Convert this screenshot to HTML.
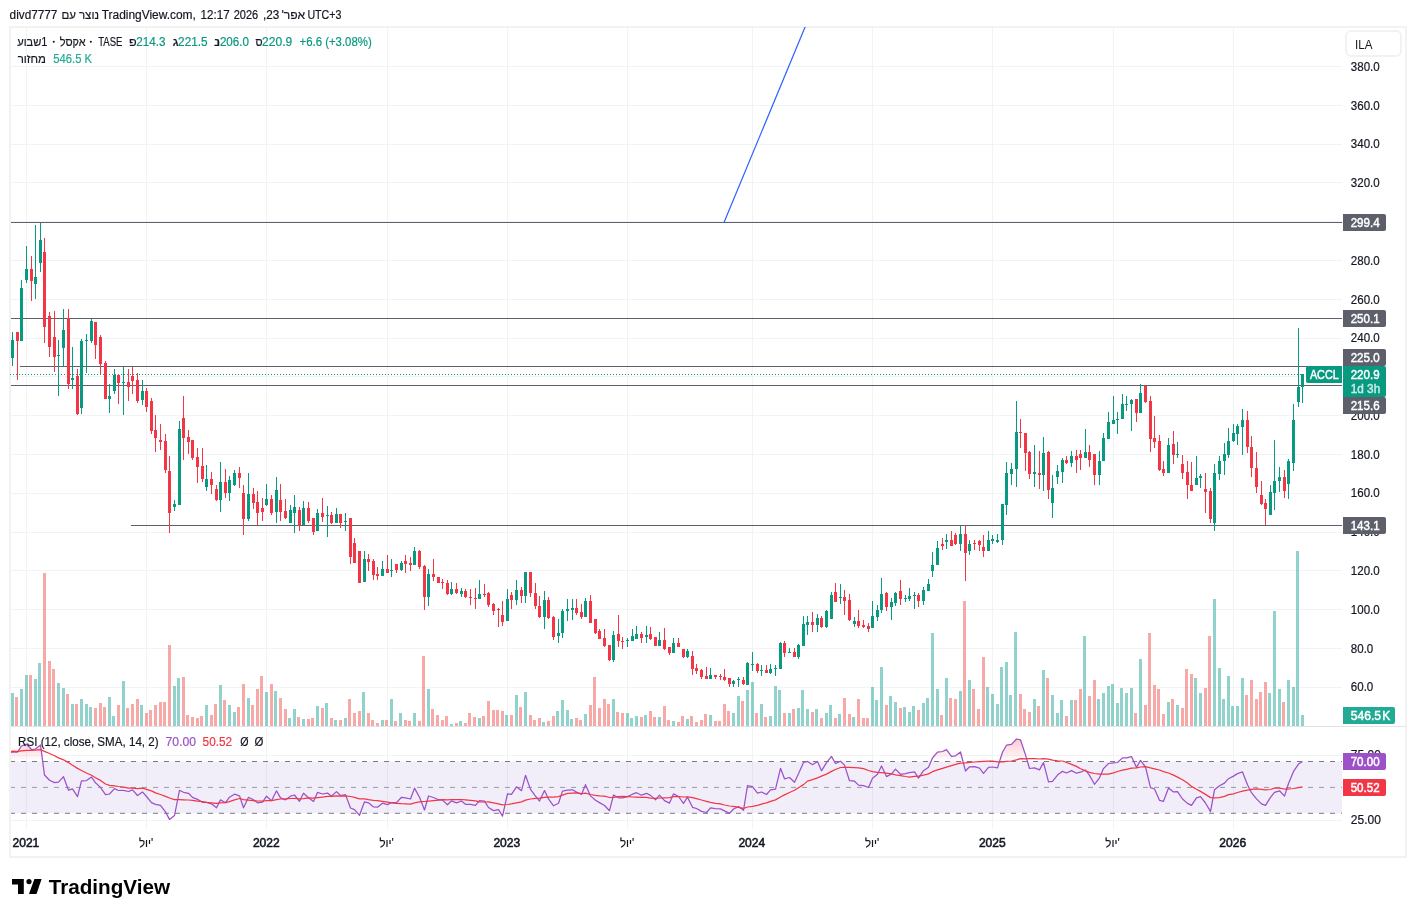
<!DOCTYPE html><html><head><meta charset="utf-8"><style>
html,body{margin:0;padding:0;background:#fff;width:1416px;height:917px;overflow:hidden;position:relative}
body{font-family:"Liberation Sans",sans-serif}
.t{position:absolute;white-space:nowrap;unicode-bidi:bidi-override;direction:ltr;line-height:16px}
.b{position:absolute;text-align:center;white-space:nowrap;unicode-bidi:bidi-override;direction:ltr;font-family:"Liberation Sans",sans-serif}
.gr{color:#089981} .gr2{color:#22ab94}
#frame{position:absolute;left:9px;top:26px;width:1398px;height:832px;border:2px solid #f2f2f2;box-sizing:border-box}
text{unicode-bidi:bidi-override;direction:ltr}
svg{will-change:transform}
</style></head><body>
<div id="frame"></div>
<svg width="1416" height="917" style="position:absolute;left:0;top:0"><defs><clipPath id="cp"><rect x="11" y="27" width="1331" height="699"/></clipPath><clipPath id="cr"><rect x="11" y="728" width="1331" height="101"/></clipPath><linearGradient id="ob" gradientUnits="userSpaceOnUse" x1="0" y1="722.6" x2="0" y2="761.5"><stop offset="0" stop-color="#f23645" stop-opacity="0.45"/><stop offset="1" stop-color="#f23645" stop-opacity="0"/></linearGradient></defs><g shape-rendering="crispEdges"><rect x="26" y="27" width="1" height="699" fill="#f2f3f3"/><rect x="26" y="728" width="1" height="101" fill="#f2f3f3"/><rect x="146" y="27" width="1" height="699" fill="#f2f3f3"/><rect x="146" y="728" width="1" height="101" fill="#f2f3f3"/><rect x="266" y="27" width="1" height="699" fill="#f2f3f3"/><rect x="266" y="728" width="1" height="101" fill="#f2f3f3"/><rect x="387" y="27" width="1" height="699" fill="#f2f3f3"/><rect x="387" y="728" width="1" height="101" fill="#f2f3f3"/><rect x="507" y="27" width="1" height="699" fill="#f2f3f3"/><rect x="507" y="728" width="1" height="101" fill="#f2f3f3"/><rect x="627" y="27" width="1" height="699" fill="#f2f3f3"/><rect x="627" y="728" width="1" height="101" fill="#f2f3f3"/><rect x="752" y="27" width="1" height="699" fill="#f2f3f3"/><rect x="752" y="728" width="1" height="101" fill="#f2f3f3"/><rect x="872" y="27" width="1" height="699" fill="#f2f3f3"/><rect x="872" y="728" width="1" height="101" fill="#f2f3f3"/><rect x="992" y="27" width="1" height="699" fill="#f2f3f3"/><rect x="992" y="728" width="1" height="101" fill="#f2f3f3"/><rect x="1113" y="27" width="1" height="699" fill="#f2f3f3"/><rect x="1113" y="728" width="1" height="101" fill="#f2f3f3"/><rect x="1233" y="27" width="1" height="699" fill="#f2f3f3"/><rect x="1233" y="728" width="1" height="101" fill="#f2f3f3"/><rect x="11" y="687" width="1331" height="1" fill="#f2f3f3"/><rect x="11" y="648" width="1331" height="1" fill="#f2f3f3"/><rect x="11" y="609" width="1331" height="1" fill="#f2f3f3"/><rect x="11" y="570" width="1331" height="1" fill="#f2f3f3"/><rect x="11" y="532" width="1331" height="1" fill="#f2f3f3"/><rect x="11" y="493" width="1331" height="1" fill="#f2f3f3"/><rect x="11" y="454" width="1331" height="1" fill="#f2f3f3"/><rect x="11" y="415" width="1331" height="1" fill="#f2f3f3"/><rect x="11" y="376" width="1331" height="1" fill="#f2f3f3"/><rect x="11" y="338" width="1331" height="1" fill="#f2f3f3"/><rect x="11" y="299" width="1331" height="1" fill="#f2f3f3"/><rect x="11" y="260" width="1331" height="1" fill="#f2f3f3"/><rect x="11" y="221" width="1331" height="1" fill="#f2f3f3"/><rect x="11" y="182" width="1331" height="1" fill="#f2f3f3"/><rect x="11" y="144" width="1331" height="1" fill="#f2f3f3"/><rect x="11" y="105" width="1331" height="1" fill="#f2f3f3"/><rect x="11" y="66" width="1331" height="1" fill="#f2f3f3"/><rect x="11" y="755" width="1331" height="1" fill="#f2f3f3"/><rect x="11" y="820" width="1331" height="1" fill="#f2f3f3"/></g><g shape-rendering="crispEdges" clip-path="url(#cp)"><rect x="11" y="693" width="3" height="33" fill="rgba(38,166,154,0.5)"/><rect x="15" y="697" width="3" height="29" fill="rgba(239,83,80,0.5)"/><rect x="20" y="689" width="3" height="37" fill="rgba(38,166,154,0.5)"/><rect x="25" y="675" width="3" height="51" fill="rgba(38,166,154,0.5)"/><rect x="29" y="675" width="3" height="51" fill="rgba(239,83,80,0.5)"/><rect x="34" y="679" width="3" height="47" fill="rgba(38,166,154,0.5)"/><rect x="38" y="663" width="3" height="63" fill="rgba(38,166,154,0.5)"/><rect x="43" y="573" width="3" height="153" fill="rgba(239,83,80,0.5)"/><rect x="48" y="661" width="3" height="65" fill="rgba(239,83,80,0.5)"/><rect x="52" y="669" width="3" height="57" fill="rgba(239,83,80,0.5)"/><rect x="57" y="683" width="3" height="43" fill="rgba(38,166,154,0.5)"/><rect x="62" y="688" width="3" height="38" fill="rgba(38,166,154,0.5)"/><rect x="66" y="694" width="3" height="32" fill="rgba(239,83,80,0.5)"/><rect x="71" y="704" width="3" height="22" fill="rgba(38,166,154,0.5)"/><rect x="75" y="704" width="3" height="22" fill="rgba(239,83,80,0.5)"/><rect x="80" y="699" width="3" height="27" fill="rgba(38,166,154,0.5)"/><rect x="85" y="704" width="3" height="22" fill="rgba(38,166,154,0.5)"/><rect x="89" y="707" width="3" height="19" fill="rgba(38,166,154,0.5)"/><rect x="94" y="708" width="3" height="18" fill="rgba(239,83,80,0.5)"/><rect x="99" y="703" width="3" height="23" fill="rgba(239,83,80,0.5)"/><rect x="103" y="707" width="3" height="19" fill="rgba(239,83,80,0.5)"/><rect x="108" y="697" width="3" height="29" fill="rgba(38,166,154,0.5)"/><rect x="112" y="716" width="3" height="10" fill="rgba(38,166,154,0.5)"/><rect x="117" y="705" width="3" height="21" fill="rgba(239,83,80,0.5)"/><rect x="122" y="681" width="3" height="45" fill="rgba(38,166,154,0.5)"/><rect x="126" y="708" width="3" height="18" fill="rgba(239,83,80,0.5)"/><rect x="131" y="704" width="3" height="22" fill="rgba(239,83,80,0.5)"/><rect x="136" y="699" width="3" height="27" fill="rgba(239,83,80,0.5)"/><rect x="140" y="705" width="3" height="21" fill="rgba(38,166,154,0.5)"/><rect x="145" y="713" width="3" height="13" fill="rgba(239,83,80,0.5)"/><rect x="149" y="710" width="3" height="16" fill="rgba(239,83,80,0.5)"/><rect x="154" y="705" width="3" height="21" fill="rgba(239,83,80,0.5)"/><rect x="159" y="702" width="3" height="24" fill="rgba(239,83,80,0.5)"/><rect x="163" y="702" width="3" height="24" fill="rgba(239,83,80,0.5)"/><rect x="168" y="645" width="3" height="81" fill="rgba(239,83,80,0.5)"/><rect x="173" y="686" width="3" height="40" fill="rgba(38,166,154,0.5)"/><rect x="177" y="678" width="3" height="48" fill="rgba(38,166,154,0.5)"/><rect x="182" y="677" width="3" height="49" fill="rgba(239,83,80,0.5)"/><rect x="186" y="715" width="3" height="11" fill="rgba(239,83,80,0.5)"/><rect x="191" y="717" width="3" height="9" fill="rgba(239,83,80,0.5)"/><rect x="196" y="718" width="3" height="8" fill="rgba(239,83,80,0.5)"/><rect x="200" y="716" width="3" height="10" fill="rgba(239,83,80,0.5)"/><rect x="205" y="705" width="3" height="21" fill="rgba(38,166,154,0.5)"/><rect x="210" y="715" width="3" height="11" fill="rgba(239,83,80,0.5)"/><rect x="214" y="704" width="3" height="22" fill="rgba(239,83,80,0.5)"/><rect x="219" y="685" width="3" height="41" fill="rgba(38,166,154,0.5)"/><rect x="223" y="700" width="3" height="26" fill="rgba(239,83,80,0.5)"/><rect x="228" y="705" width="3" height="21" fill="rgba(38,166,154,0.5)"/><rect x="233" y="712" width="3" height="14" fill="rgba(38,166,154,0.5)"/><rect x="237" y="707" width="3" height="19" fill="rgba(239,83,80,0.5)"/><rect x="242" y="684" width="3" height="42" fill="rgba(239,83,80,0.5)"/><rect x="247" y="698" width="3" height="28" fill="rgba(38,166,154,0.5)"/><rect x="251" y="705" width="3" height="21" fill="rgba(239,83,80,0.5)"/><rect x="256" y="689" width="3" height="37" fill="rgba(239,83,80,0.5)"/><rect x="260" y="676" width="3" height="50" fill="rgba(239,83,80,0.5)"/><rect x="265" y="692" width="3" height="34" fill="rgba(38,166,154,0.5)"/><rect x="270" y="684" width="3" height="42" fill="rgba(239,83,80,0.5)"/><rect x="274" y="691" width="3" height="35" fill="rgba(38,166,154,0.5)"/><rect x="279" y="698" width="3" height="28" fill="rgba(239,83,80,0.5)"/><rect x="284" y="709" width="3" height="17" fill="rgba(239,83,80,0.5)"/><rect x="288" y="718" width="3" height="8" fill="rgba(38,166,154,0.5)"/><rect x="293" y="709" width="3" height="17" fill="rgba(38,166,154,0.5)"/><rect x="297" y="717" width="3" height="9" fill="rgba(239,83,80,0.5)"/><rect x="302" y="719" width="3" height="7" fill="rgba(38,166,154,0.5)"/><rect x="307" y="719" width="3" height="7" fill="rgba(239,83,80,0.5)"/><rect x="311" y="718" width="3" height="8" fill="rgba(239,83,80,0.5)"/><rect x="316" y="706" width="3" height="20" fill="rgba(38,166,154,0.5)"/><rect x="321" y="708" width="3" height="18" fill="rgba(239,83,80,0.5)"/><rect x="325" y="703" width="3" height="23" fill="rgba(38,166,154,0.5)"/><rect x="330" y="718" width="3" height="8" fill="rgba(239,83,80,0.5)"/><rect x="334" y="720" width="3" height="6" fill="rgba(38,166,154,0.5)"/><rect x="339" y="720" width="3" height="6" fill="rgba(239,83,80,0.5)"/><rect x="344" y="718" width="3" height="8" fill="rgba(38,166,154,0.5)"/><rect x="348" y="699" width="3" height="27" fill="rgba(239,83,80,0.5)"/><rect x="353" y="713" width="3" height="13" fill="rgba(239,83,80,0.5)"/><rect x="358" y="711" width="3" height="15" fill="rgba(239,83,80,0.5)"/><rect x="362" y="692" width="3" height="34" fill="rgba(38,166,154,0.5)"/><rect x="367" y="713" width="3" height="13" fill="rgba(239,83,80,0.5)"/><rect x="371" y="720" width="3" height="6" fill="rgba(239,83,80,0.5)"/><rect x="376" y="723" width="3" height="3" fill="rgba(239,83,80,0.5)"/><rect x="381" y="720" width="3" height="6" fill="rgba(38,166,154,0.5)"/><rect x="385" y="720" width="3" height="6" fill="rgba(239,83,80,0.5)"/><rect x="390" y="699" width="3" height="27" fill="rgba(38,166,154,0.5)"/><rect x="394" y="721" width="3" height="5" fill="rgba(239,83,80,0.5)"/><rect x="399" y="713" width="3" height="13" fill="rgba(38,166,154,0.5)"/><rect x="404" y="720" width="3" height="6" fill="rgba(239,83,80,0.5)"/><rect x="408" y="721" width="3" height="5" fill="rgba(239,83,80,0.5)"/><rect x="413" y="713" width="3" height="13" fill="rgba(38,166,154,0.5)"/><rect x="418" y="721" width="3" height="5" fill="rgba(239,83,80,0.5)"/><rect x="422" y="656" width="3" height="70" fill="rgba(239,83,80,0.5)"/><rect x="427" y="689" width="3" height="37" fill="rgba(38,166,154,0.5)"/><rect x="431" y="709" width="3" height="17" fill="rgba(239,83,80,0.5)"/><rect x="436" y="715" width="3" height="11" fill="rgba(239,83,80,0.5)"/><rect x="441" y="720" width="3" height="6" fill="rgba(239,83,80,0.5)"/><rect x="445" y="716" width="3" height="10" fill="rgba(239,83,80,0.5)"/><rect x="450" y="724" width="3" height="2" fill="rgba(38,166,154,0.5)"/><rect x="455" y="723" width="3" height="3" fill="rgba(239,83,80,0.5)"/><rect x="459" y="721" width="3" height="5" fill="rgba(38,166,154,0.5)"/><rect x="464" y="723" width="3" height="3" fill="rgba(239,83,80,0.5)"/><rect x="468" y="713" width="3" height="13" fill="rgba(239,83,80,0.5)"/><rect x="473" y="717" width="3" height="9" fill="rgba(239,83,80,0.5)"/><rect x="478" y="718" width="3" height="8" fill="rgba(38,166,154,0.5)"/><rect x="482" y="716" width="3" height="10" fill="rgba(239,83,80,0.5)"/><rect x="487" y="701" width="3" height="25" fill="rgba(239,83,80,0.5)"/><rect x="492" y="710" width="3" height="16" fill="rgba(239,83,80,0.5)"/><rect x="496" y="710" width="3" height="16" fill="rgba(239,83,80,0.5)"/><rect x="501" y="711" width="3" height="15" fill="rgba(239,83,80,0.5)"/><rect x="505" y="715" width="3" height="11" fill="rgba(38,166,154,0.5)"/><rect x="510" y="715" width="3" height="11" fill="rgba(239,83,80,0.5)"/><rect x="515" y="695" width="3" height="31" fill="rgba(38,166,154,0.5)"/><rect x="519" y="707" width="3" height="19" fill="rgba(239,83,80,0.5)"/><rect x="524" y="692" width="3" height="34" fill="rgba(38,166,154,0.5)"/><rect x="529" y="715" width="3" height="11" fill="rgba(239,83,80,0.5)"/><rect x="533" y="720" width="3" height="6" fill="rgba(239,83,80,0.5)"/><rect x="538" y="718" width="3" height="8" fill="rgba(239,83,80,0.5)"/><rect x="542" y="722" width="3" height="4" fill="rgba(38,166,154,0.5)"/><rect x="547" y="721" width="3" height="5" fill="rgba(239,83,80,0.5)"/><rect x="552" y="716" width="3" height="10" fill="rgba(239,83,80,0.5)"/><rect x="556" y="711" width="3" height="15" fill="rgba(38,166,154,0.5)"/><rect x="561" y="700" width="3" height="26" fill="rgba(38,166,154,0.5)"/><rect x="566" y="710" width="3" height="16" fill="rgba(38,166,154,0.5)"/><rect x="570" y="719" width="3" height="7" fill="rgba(38,166,154,0.5)"/><rect x="575" y="718" width="3" height="8" fill="rgba(239,83,80,0.5)"/><rect x="579" y="720" width="3" height="6" fill="rgba(239,83,80,0.5)"/><rect x="584" y="714" width="3" height="12" fill="rgba(38,166,154,0.5)"/><rect x="589" y="705" width="3" height="21" fill="rgba(239,83,80,0.5)"/><rect x="593" y="677" width="3" height="49" fill="rgba(239,83,80,0.5)"/><rect x="598" y="708" width="3" height="18" fill="rgba(239,83,80,0.5)"/><rect x="603" y="699" width="3" height="27" fill="rgba(239,83,80,0.5)"/><rect x="607" y="704" width="3" height="22" fill="rgba(239,83,80,0.5)"/><rect x="612" y="699" width="3" height="27" fill="rgba(38,166,154,0.5)"/><rect x="616" y="712" width="3" height="14" fill="rgba(239,83,80,0.5)"/><rect x="621" y="713" width="3" height="13" fill="rgba(239,83,80,0.5)"/><rect x="626" y="713" width="3" height="13" fill="rgba(38,166,154,0.5)"/><rect x="630" y="718" width="3" height="8" fill="rgba(38,166,154,0.5)"/><rect x="635" y="716" width="3" height="10" fill="rgba(38,166,154,0.5)"/><rect x="640" y="717" width="3" height="9" fill="rgba(239,83,80,0.5)"/><rect x="644" y="715" width="3" height="11" fill="rgba(38,166,154,0.5)"/><rect x="649" y="711" width="3" height="15" fill="rgba(239,83,80,0.5)"/><rect x="653" y="717" width="3" height="9" fill="rgba(239,83,80,0.5)"/><rect x="658" y="717" width="3" height="9" fill="rgba(38,166,154,0.5)"/><rect x="663" y="706" width="3" height="20" fill="rgba(239,83,80,0.5)"/><rect x="667" y="720" width="3" height="6" fill="rgba(239,83,80,0.5)"/><rect x="672" y="721" width="3" height="5" fill="rgba(38,166,154,0.5)"/><rect x="677" y="722" width="3" height="4" fill="rgba(239,83,80,0.5)"/><rect x="681" y="716" width="3" height="10" fill="rgba(239,83,80,0.5)"/><rect x="686" y="719" width="3" height="7" fill="rgba(38,166,154,0.5)"/><rect x="690" y="716" width="3" height="10" fill="rgba(239,83,80,0.5)"/><rect x="695" y="722" width="3" height="4" fill="rgba(239,83,80,0.5)"/><rect x="700" y="720" width="3" height="6" fill="rgba(239,83,80,0.5)"/><rect x="704" y="714" width="3" height="12" fill="rgba(239,83,80,0.5)"/><rect x="709" y="715" width="3" height="11" fill="rgba(38,166,154,0.5)"/><rect x="714" y="721" width="3" height="5" fill="rgba(239,83,80,0.5)"/><rect x="718" y="721" width="3" height="5" fill="rgba(239,83,80,0.5)"/><rect x="723" y="704" width="3" height="22" fill="rgba(239,83,80,0.5)"/><rect x="727" y="711" width="3" height="15" fill="rgba(239,83,80,0.5)"/><rect x="732" y="713" width="3" height="13" fill="rgba(38,166,154,0.5)"/><rect x="737" y="696" width="3" height="30" fill="rgba(38,166,154,0.5)"/><rect x="741" y="701" width="3" height="25" fill="rgba(239,83,80,0.5)"/><rect x="746" y="690" width="3" height="36" fill="rgba(38,166,154,0.5)"/><rect x="751" y="682" width="3" height="44" fill="rgba(38,166,154,0.5)"/><rect x="755" y="713" width="3" height="13" fill="rgba(239,83,80,0.5)"/><rect x="760" y="704" width="3" height="22" fill="rgba(38,166,154,0.5)"/><rect x="764" y="717" width="3" height="9" fill="rgba(239,83,80,0.5)"/><rect x="769" y="716" width="3" height="10" fill="rgba(38,166,154,0.5)"/><rect x="774" y="686" width="3" height="40" fill="rgba(38,166,154,0.5)"/><rect x="778" y="690" width="3" height="36" fill="rgba(38,166,154,0.5)"/><rect x="783" y="713" width="3" height="13" fill="rgba(239,83,80,0.5)"/><rect x="788" y="713" width="3" height="13" fill="rgba(38,166,154,0.5)"/><rect x="792" y="709" width="3" height="17" fill="rgba(239,83,80,0.5)"/><rect x="797" y="708" width="3" height="18" fill="rgba(38,166,154,0.5)"/><rect x="801" y="690" width="3" height="36" fill="rgba(38,166,154,0.5)"/><rect x="806" y="709" width="3" height="17" fill="rgba(38,166,154,0.5)"/><rect x="811" y="712" width="3" height="14" fill="rgba(239,83,80,0.5)"/><rect x="815" y="709" width="3" height="17" fill="rgba(38,166,154,0.5)"/><rect x="820" y="718" width="3" height="8" fill="rgba(239,83,80,0.5)"/><rect x="825" y="713" width="3" height="13" fill="rgba(38,166,154,0.5)"/><rect x="829" y="705" width="3" height="21" fill="rgba(38,166,154,0.5)"/><rect x="834" y="718" width="3" height="8" fill="rgba(239,83,80,0.5)"/><rect x="838" y="714" width="3" height="12" fill="rgba(38,166,154,0.5)"/><rect x="843" y="698" width="3" height="28" fill="rgba(239,83,80,0.5)"/><rect x="848" y="714" width="3" height="12" fill="rgba(239,83,80,0.5)"/><rect x="852" y="717" width="3" height="9" fill="rgba(38,166,154,0.5)"/><rect x="857" y="699" width="3" height="27" fill="rgba(239,83,80,0.5)"/><rect x="862" y="718" width="3" height="8" fill="rgba(239,83,80,0.5)"/><rect x="866" y="718" width="3" height="8" fill="rgba(239,83,80,0.5)"/><rect x="871" y="687" width="3" height="39" fill="rgba(38,166,154,0.5)"/><rect x="875" y="700" width="3" height="26" fill="rgba(38,166,154,0.5)"/><rect x="880" y="667" width="3" height="59" fill="rgba(38,166,154,0.5)"/><rect x="885" y="705" width="3" height="21" fill="rgba(239,83,80,0.5)"/><rect x="889" y="696" width="3" height="30" fill="rgba(38,166,154,0.5)"/><rect x="894" y="702" width="3" height="24" fill="rgba(38,166,154,0.5)"/><rect x="899" y="708" width="3" height="18" fill="rgba(239,83,80,0.5)"/><rect x="903" y="707" width="3" height="19" fill="rgba(38,166,154,0.5)"/><rect x="908" y="712" width="3" height="14" fill="rgba(38,166,154,0.5)"/><rect x="912" y="706" width="3" height="20" fill="rgba(38,166,154,0.5)"/><rect x="917" y="710" width="3" height="16" fill="rgba(239,83,80,0.5)"/><rect x="922" y="703" width="3" height="23" fill="rgba(38,166,154,0.5)"/><rect x="926" y="698" width="3" height="28" fill="rgba(38,166,154,0.5)"/><rect x="931" y="633" width="3" height="93" fill="rgba(38,166,154,0.5)"/><rect x="936" y="689" width="3" height="37" fill="rgba(38,166,154,0.5)"/><rect x="940" y="715" width="3" height="11" fill="rgba(239,83,80,0.5)"/><rect x="945" y="678" width="3" height="48" fill="rgba(38,166,154,0.5)"/><rect x="949" y="698" width="3" height="28" fill="rgba(239,83,80,0.5)"/><rect x="954" y="699" width="3" height="27" fill="rgba(239,83,80,0.5)"/><rect x="959" y="691" width="3" height="35" fill="rgba(38,166,154,0.5)"/><rect x="963" y="601" width="3" height="125" fill="rgba(239,83,80,0.5)"/><rect x="968" y="680" width="3" height="46" fill="rgba(38,166,154,0.5)"/><rect x="972" y="689" width="3" height="37" fill="rgba(239,83,80,0.5)"/><rect x="977" y="709" width="3" height="17" fill="rgba(239,83,80,0.5)"/><rect x="982" y="657" width="3" height="69" fill="rgba(239,83,80,0.5)"/><rect x="986" y="687" width="3" height="39" fill="rgba(38,166,154,0.5)"/><rect x="991" y="694" width="3" height="32" fill="rgba(38,166,154,0.5)"/><rect x="996" y="704" width="3" height="22" fill="rgba(38,166,154,0.5)"/><rect x="1000" y="667" width="3" height="59" fill="rgba(38,166,154,0.5)"/><rect x="1005" y="662" width="3" height="64" fill="rgba(38,166,154,0.5)"/><rect x="1009" y="695" width="3" height="31" fill="rgba(38,166,154,0.5)"/><rect x="1014" y="632" width="3" height="94" fill="rgba(38,166,154,0.5)"/><rect x="1019" y="694" width="3" height="32" fill="rgba(239,83,80,0.5)"/><rect x="1023" y="709" width="3" height="17" fill="rgba(239,83,80,0.5)"/><rect x="1028" y="712" width="3" height="14" fill="rgba(239,83,80,0.5)"/><rect x="1033" y="699" width="3" height="27" fill="rgba(38,166,154,0.5)"/><rect x="1037" y="706" width="3" height="20" fill="rgba(239,83,80,0.5)"/><rect x="1042" y="670" width="3" height="56" fill="rgba(38,166,154,0.5)"/><rect x="1046" y="678" width="3" height="48" fill="rgba(239,83,80,0.5)"/><rect x="1051" y="695" width="3" height="31" fill="rgba(38,166,154,0.5)"/><rect x="1056" y="713" width="3" height="13" fill="rgba(38,166,154,0.5)"/><rect x="1060" y="700" width="3" height="26" fill="rgba(38,166,154,0.5)"/><rect x="1065" y="716" width="3" height="10" fill="rgba(239,83,80,0.5)"/><rect x="1070" y="700" width="3" height="26" fill="rgba(38,166,154,0.5)"/><rect x="1074" y="700" width="3" height="26" fill="rgba(239,83,80,0.5)"/><rect x="1079" y="689" width="3" height="37" fill="rgba(239,83,80,0.5)"/><rect x="1083" y="636" width="3" height="90" fill="rgba(38,166,154,0.5)"/><rect x="1088" y="696" width="3" height="30" fill="rgba(239,83,80,0.5)"/><rect x="1093" y="680" width="3" height="46" fill="rgba(239,83,80,0.5)"/><rect x="1097" y="699" width="3" height="27" fill="rgba(38,166,154,0.5)"/><rect x="1102" y="693" width="3" height="33" fill="rgba(38,166,154,0.5)"/><rect x="1107" y="686" width="3" height="40" fill="rgba(38,166,154,0.5)"/><rect x="1111" y="684" width="3" height="42" fill="rgba(38,166,154,0.5)"/><rect x="1116" y="703" width="3" height="23" fill="rgba(38,166,154,0.5)"/><rect x="1120" y="688" width="3" height="38" fill="rgba(38,166,154,0.5)"/><rect x="1125" y="693" width="3" height="33" fill="rgba(38,166,154,0.5)"/><rect x="1130" y="688" width="3" height="38" fill="rgba(38,166,154,0.5)"/><rect x="1134" y="713" width="3" height="13" fill="rgba(239,83,80,0.5)"/><rect x="1139" y="659" width="3" height="67" fill="rgba(38,166,154,0.5)"/><rect x="1144" y="705" width="3" height="21" fill="rgba(239,83,80,0.5)"/><rect x="1148" y="633" width="3" height="93" fill="rgba(239,83,80,0.5)"/><rect x="1153" y="685" width="3" height="41" fill="rgba(239,83,80,0.5)"/><rect x="1157" y="689" width="3" height="37" fill="rgba(239,83,80,0.5)"/><rect x="1162" y="714" width="3" height="12" fill="rgba(239,83,80,0.5)"/><rect x="1167" y="702" width="3" height="24" fill="rgba(38,166,154,0.5)"/><rect x="1171" y="699" width="3" height="27" fill="rgba(239,83,80,0.5)"/><rect x="1176" y="705" width="3" height="21" fill="rgba(38,166,154,0.5)"/><rect x="1181" y="708" width="3" height="18" fill="rgba(239,83,80,0.5)"/><rect x="1185" y="669" width="3" height="57" fill="rgba(239,83,80,0.5)"/><rect x="1190" y="674" width="3" height="52" fill="rgba(239,83,80,0.5)"/><rect x="1194" y="678" width="3" height="48" fill="rgba(38,166,154,0.5)"/><rect x="1199" y="693" width="3" height="33" fill="rgba(38,166,154,0.5)"/><rect x="1204" y="688" width="3" height="38" fill="rgba(239,83,80,0.5)"/><rect x="1208" y="636" width="3" height="90" fill="rgba(239,83,80,0.5)"/><rect x="1213" y="599" width="3" height="127" fill="rgba(38,166,154,0.5)"/><rect x="1218" y="668" width="3" height="58" fill="rgba(38,166,154,0.5)"/><rect x="1222" y="699" width="3" height="27" fill="rgba(38,166,154,0.5)"/><rect x="1227" y="676" width="3" height="50" fill="rgba(38,166,154,0.5)"/><rect x="1231" y="706" width="3" height="20" fill="rgba(38,166,154,0.5)"/><rect x="1236" y="706" width="3" height="20" fill="rgba(38,166,154,0.5)"/><rect x="1241" y="678" width="3" height="48" fill="rgba(38,166,154,0.5)"/><rect x="1245" y="695" width="3" height="31" fill="rgba(239,83,80,0.5)"/><rect x="1250" y="680" width="3" height="46" fill="rgba(239,83,80,0.5)"/><rect x="1255" y="699" width="3" height="27" fill="rgba(239,83,80,0.5)"/><rect x="1259" y="692" width="3" height="34" fill="rgba(239,83,80,0.5)"/><rect x="1264" y="682" width="3" height="44" fill="rgba(239,83,80,0.5)"/><rect x="1268" y="693" width="3" height="33" fill="rgba(38,166,154,0.5)"/><rect x="1273" y="611" width="3" height="115" fill="rgba(38,166,154,0.5)"/><rect x="1278" y="689" width="3" height="37" fill="rgba(38,166,154,0.5)"/><rect x="1282" y="702" width="3" height="24" fill="rgba(239,83,80,0.5)"/><rect x="1287" y="680" width="3" height="46" fill="rgba(38,166,154,0.5)"/><rect x="1292" y="687" width="3" height="39" fill="rgba(38,166,154,0.5)"/><rect x="1296" y="551" width="3" height="175" fill="rgba(38,166,154,0.5)"/><rect x="1301" y="715" width="3" height="11" fill="rgba(38,166,154,0.5)"/></g><g shape-rendering="crispEdges"><rect x="11" y="222" width="1331" height="1" fill="#5d606b"/><rect x="11" y="318" width="1331" height="1" fill="#5d606b"/><rect x="20" y="366" width="1322" height="1" fill="#5d606b"/><rect x="11" y="385" width="1331" height="1" fill="#5d606b"/><rect x="131" y="525" width="1211" height="1" fill="#5d606b"/></g><line x1="10" y1="374.5" x2="1342" y2="374.5" stroke="#089981" stroke-width="1" stroke-dasharray="1 2" shape-rendering="crispEdges"/><g shape-rendering="crispEdges" clip-path="url(#cp)"><rect x="12" y="332" width="1" height="34" fill="#089981"/><rect x="11" y="340" width="3" height="18" fill="#089981"/><rect x="17" y="332" width="1" height="48" fill="#f23645"/><rect x="16" y="332" width="3" height="9" fill="#f23645"/><rect x="21" y="280" width="1" height="61" fill="#089981"/><rect x="20" y="288" width="3" height="53" fill="#089981"/><rect x="26" y="246" width="1" height="37" fill="#089981"/><rect x="25" y="269" width="3" height="11" fill="#089981"/><rect x="31" y="256" width="1" height="45" fill="#f23645"/><rect x="30" y="269" width="3" height="12" fill="#f23645"/><rect x="35" y="225" width="1" height="74" fill="#089981"/><rect x="34" y="277" width="3" height="7" fill="#089981"/><rect x="40" y="223" width="1" height="49" fill="#089981"/><rect x="39" y="240" width="3" height="23" fill="#089981"/><rect x="44" y="238" width="1" height="105" fill="#f23645"/><rect x="43" y="252" width="3" height="75" fill="#f23645"/><rect x="49" y="312" width="1" height="45" fill="#f23645"/><rect x="48" y="316" width="3" height="31" fill="#f23645"/><rect x="54" y="311" width="1" height="61" fill="#f23645"/><rect x="53" y="337" width="3" height="20" fill="#f23645"/><rect x="58" y="340" width="1" height="56" fill="#089981"/><rect x="57" y="355" width="3" height="1" fill="#089981"/><rect x="63" y="309" width="1" height="57" fill="#089981"/><rect x="62" y="330" width="3" height="18" fill="#089981"/><rect x="68" y="309" width="1" height="80" fill="#f23645"/><rect x="67" y="318" width="3" height="66" fill="#f23645"/><rect x="72" y="347" width="1" height="42" fill="#089981"/><rect x="71" y="378" width="3" height="2" fill="#089981"/><rect x="77" y="369" width="1" height="46" fill="#f23645"/><rect x="76" y="376" width="3" height="38" fill="#f23645"/><rect x="81" y="339" width="1" height="75" fill="#089981"/><rect x="80" y="341" width="3" height="67" fill="#089981"/><rect x="86" y="334" width="1" height="39" fill="#089981"/><rect x="85" y="340" width="3" height="1" fill="#089981"/><rect x="91" y="319" width="1" height="24" fill="#089981"/><rect x="90" y="321" width="3" height="20" fill="#089981"/><rect x="95" y="322" width="1" height="37" fill="#f23645"/><rect x="94" y="322" width="3" height="23" fill="#f23645"/><rect x="100" y="335" width="1" height="39" fill="#f23645"/><rect x="99" y="337" width="3" height="27" fill="#f23645"/><rect x="105" y="361" width="1" height="38" fill="#f23645"/><rect x="104" y="363" width="3" height="36" fill="#f23645"/><rect x="109" y="384" width="1" height="29" fill="#089981"/><rect x="108" y="396" width="3" height="3" fill="#089981"/><rect x="114" y="369" width="1" height="25" fill="#089981"/><rect x="113" y="375" width="3" height="16" fill="#089981"/><rect x="118" y="374" width="1" height="30" fill="#f23645"/><rect x="117" y="375" width="3" height="8" fill="#f23645"/><rect x="123" y="367" width="1" height="48" fill="#089981"/><rect x="122" y="382" width="3" height="1" fill="#089981"/><rect x="128" y="369" width="1" height="32" fill="#f23645"/><rect x="127" y="382" width="3" height="5" fill="#f23645"/><rect x="132" y="367" width="1" height="27" fill="#f23645"/><rect x="131" y="376" width="3" height="5" fill="#f23645"/><rect x="137" y="373" width="1" height="30" fill="#f23645"/><rect x="136" y="380" width="3" height="21" fill="#f23645"/><rect x="142" y="380" width="1" height="25" fill="#089981"/><rect x="141" y="391" width="3" height="9" fill="#089981"/><rect x="146" y="388" width="1" height="24" fill="#f23645"/><rect x="145" y="391" width="3" height="16" fill="#f23645"/><rect x="151" y="398" width="1" height="36" fill="#f23645"/><rect x="150" y="401" width="3" height="30" fill="#f23645"/><rect x="155" y="415" width="1" height="37" fill="#f23645"/><rect x="154" y="430" width="3" height="8" fill="#f23645"/><rect x="160" y="424" width="1" height="26" fill="#f23645"/><rect x="159" y="440" width="3" height="2" fill="#f23645"/><rect x="165" y="434" width="1" height="39" fill="#f23645"/><rect x="164" y="441" width="3" height="29" fill="#f23645"/><rect x="169" y="456" width="1" height="77" fill="#f23645"/><rect x="168" y="471" width="3" height="42" fill="#f23645"/><rect x="174" y="500" width="1" height="11" fill="#089981"/><rect x="173" y="504" width="3" height="3" fill="#089981"/><rect x="179" y="421" width="1" height="84" fill="#089981"/><rect x="178" y="429" width="3" height="76" fill="#089981"/><rect x="183" y="396" width="1" height="64" fill="#f23645"/><rect x="182" y="418" width="3" height="20" fill="#f23645"/><rect x="188" y="430" width="1" height="24" fill="#f23645"/><rect x="187" y="437" width="3" height="5" fill="#f23645"/><rect x="192" y="440" width="1" height="20" fill="#f23645"/><rect x="191" y="440" width="3" height="18" fill="#f23645"/><rect x="197" y="448" width="1" height="35" fill="#f23645"/><rect x="196" y="457" width="3" height="10" fill="#f23645"/><rect x="202" y="448" width="1" height="34" fill="#f23645"/><rect x="201" y="466" width="3" height="13" fill="#f23645"/><rect x="206" y="465" width="1" height="26" fill="#089981"/><rect x="205" y="479" width="3" height="8" fill="#089981"/><rect x="211" y="472" width="1" height="22" fill="#f23645"/><rect x="210" y="479" width="3" height="6" fill="#f23645"/><rect x="216" y="485" width="1" height="16" fill="#f23645"/><rect x="215" y="489" width="3" height="11" fill="#f23645"/><rect x="220" y="462" width="1" height="50" fill="#089981"/><rect x="219" y="482" width="3" height="18" fill="#089981"/><rect x="225" y="469" width="1" height="29" fill="#f23645"/><rect x="224" y="482" width="3" height="11" fill="#f23645"/><rect x="229" y="476" width="1" height="25" fill="#089981"/><rect x="228" y="480" width="3" height="13" fill="#089981"/><rect x="234" y="470" width="1" height="16" fill="#089981"/><rect x="233" y="473" width="3" height="12" fill="#089981"/><rect x="239" y="467" width="1" height="21" fill="#f23645"/><rect x="238" y="473" width="3" height="5" fill="#f23645"/><rect x="243" y="485" width="1" height="50" fill="#f23645"/><rect x="242" y="493" width="3" height="26" fill="#f23645"/><rect x="248" y="473" width="1" height="48" fill="#089981"/><rect x="247" y="494" width="3" height="25" fill="#089981"/><rect x="253" y="488" width="1" height="21" fill="#f23645"/><rect x="252" y="494" width="3" height="9" fill="#f23645"/><rect x="257" y="491" width="1" height="34" fill="#f23645"/><rect x="256" y="502" width="3" height="11" fill="#f23645"/><rect x="262" y="498" width="1" height="23" fill="#f23645"/><rect x="261" y="508" width="3" height="4" fill="#f23645"/><rect x="266" y="484" width="1" height="22" fill="#089981"/><rect x="265" y="499" width="3" height="6" fill="#089981"/><rect x="271" y="495" width="1" height="20" fill="#f23645"/><rect x="270" y="499" width="3" height="14" fill="#f23645"/><rect x="276" y="477" width="1" height="46" fill="#089981"/><rect x="275" y="490" width="3" height="22" fill="#089981"/><rect x="280" y="484" width="1" height="37" fill="#f23645"/><rect x="279" y="500" width="3" height="12" fill="#f23645"/><rect x="285" y="499" width="1" height="20" fill="#f23645"/><rect x="284" y="511" width="3" height="7" fill="#f23645"/><rect x="290" y="505" width="1" height="18" fill="#089981"/><rect x="289" y="510" width="3" height="13" fill="#089981"/><rect x="294" y="495" width="1" height="38" fill="#089981"/><rect x="293" y="507" width="3" height="6" fill="#089981"/><rect x="299" y="507" width="1" height="24" fill="#f23645"/><rect x="298" y="510" width="3" height="15" fill="#f23645"/><rect x="303" y="501" width="1" height="24" fill="#089981"/><rect x="302" y="508" width="3" height="17" fill="#089981"/><rect x="308" y="502" width="1" height="21" fill="#f23645"/><rect x="307" y="508" width="3" height="13" fill="#f23645"/><rect x="313" y="518" width="1" height="17" fill="#f23645"/><rect x="312" y="518" width="3" height="14" fill="#f23645"/><rect x="317" y="509" width="1" height="22" fill="#089981"/><rect x="316" y="513" width="3" height="18" fill="#089981"/><rect x="322" y="498" width="1" height="24" fill="#f23645"/><rect x="321" y="513" width="3" height="4" fill="#f23645"/><rect x="327" y="506" width="1" height="31" fill="#089981"/><rect x="326" y="515" width="3" height="1" fill="#089981"/><rect x="331" y="512" width="1" height="12" fill="#f23645"/><rect x="330" y="515" width="3" height="8" fill="#f23645"/><rect x="336" y="508" width="1" height="15" fill="#089981"/><rect x="335" y="514" width="3" height="9" fill="#089981"/><rect x="340" y="514" width="1" height="14" fill="#f23645"/><rect x="339" y="514" width="3" height="9" fill="#f23645"/><rect x="345" y="513" width="1" height="18" fill="#089981"/><rect x="344" y="521" width="3" height="1" fill="#089981"/><rect x="350" y="518" width="1" height="46" fill="#f23645"/><rect x="349" y="518" width="3" height="39" fill="#f23645"/><rect x="354" y="538" width="1" height="25" fill="#f23645"/><rect x="353" y="543" width="3" height="20" fill="#f23645"/><rect x="359" y="551" width="1" height="32" fill="#f23645"/><rect x="358" y="551" width="3" height="32" fill="#f23645"/><rect x="364" y="551" width="1" height="31" fill="#089981"/><rect x="363" y="559" width="3" height="23" fill="#089981"/><rect x="368" y="554" width="1" height="17" fill="#f23645"/><rect x="367" y="559" width="3" height="3" fill="#f23645"/><rect x="373" y="559" width="1" height="21" fill="#f23645"/><rect x="372" y="561" width="3" height="14" fill="#f23645"/><rect x="377" y="567" width="1" height="13" fill="#f23645"/><rect x="376" y="574" width="3" height="2" fill="#f23645"/><rect x="382" y="561" width="1" height="15" fill="#089981"/><rect x="381" y="569" width="3" height="7" fill="#089981"/><rect x="387" y="555" width="1" height="18" fill="#f23645"/><rect x="386" y="569" width="3" height="4" fill="#f23645"/><rect x="391" y="559" width="1" height="18" fill="#089981"/><rect x="390" y="570" width="3" height="1" fill="#089981"/><rect x="396" y="564" width="1" height="9" fill="#f23645"/><rect x="395" y="564" width="3" height="6" fill="#f23645"/><rect x="401" y="561" width="1" height="10" fill="#089981"/><rect x="400" y="563" width="3" height="7" fill="#089981"/><rect x="405" y="555" width="1" height="18" fill="#f23645"/><rect x="404" y="561" width="3" height="3" fill="#f23645"/><rect x="410" y="557" width="1" height="14" fill="#f23645"/><rect x="409" y="563" width="3" height="2" fill="#f23645"/><rect x="414" y="547" width="1" height="18" fill="#089981"/><rect x="413" y="551" width="3" height="14" fill="#089981"/><rect x="419" y="550" width="1" height="19" fill="#f23645"/><rect x="418" y="551" width="3" height="16" fill="#f23645"/><rect x="424" y="565" width="1" height="45" fill="#f23645"/><rect x="423" y="566" width="3" height="31" fill="#f23645"/><rect x="428" y="569" width="1" height="37" fill="#089981"/><rect x="427" y="574" width="3" height="23" fill="#089981"/><rect x="433" y="559" width="1" height="22" fill="#f23645"/><rect x="432" y="574" width="3" height="3" fill="#f23645"/><rect x="438" y="577" width="1" height="6" fill="#f23645"/><rect x="437" y="577" width="3" height="6" fill="#f23645"/><rect x="442" y="579" width="1" height="10" fill="#f23645"/><rect x="441" y="582" width="3" height="1" fill="#f23645"/><rect x="447" y="580" width="1" height="15" fill="#f23645"/><rect x="446" y="583" width="3" height="11" fill="#f23645"/><rect x="451" y="582" width="1" height="13" fill="#089981"/><rect x="450" y="589" width="3" height="5" fill="#089981"/><rect x="456" y="583" width="1" height="11" fill="#f23645"/><rect x="455" y="589" width="3" height="4" fill="#f23645"/><rect x="461" y="588" width="1" height="9" fill="#089981"/><rect x="460" y="591" width="3" height="3" fill="#089981"/><rect x="465" y="589" width="1" height="9" fill="#f23645"/><rect x="464" y="591" width="3" height="6" fill="#f23645"/><rect x="470" y="589" width="1" height="16" fill="#f23645"/><rect x="469" y="597" width="3" height="1" fill="#f23645"/><rect x="475" y="588" width="1" height="21" fill="#f23645"/><rect x="474" y="598" width="3" height="1" fill="#f23645"/><rect x="479" y="580" width="1" height="19" fill="#089981"/><rect x="478" y="594" width="3" height="5" fill="#089981"/><rect x="484" y="584" width="1" height="13" fill="#f23645"/><rect x="483" y="594" width="3" height="1" fill="#f23645"/><rect x="488" y="592" width="1" height="15" fill="#f23645"/><rect x="487" y="593" width="3" height="12" fill="#f23645"/><rect x="493" y="603" width="1" height="12" fill="#f23645"/><rect x="492" y="604" width="3" height="7" fill="#f23645"/><rect x="498" y="608" width="1" height="19" fill="#f23645"/><rect x="497" y="609" width="3" height="1" fill="#f23645"/><rect x="502" y="601" width="1" height="25" fill="#f23645"/><rect x="501" y="615" width="3" height="7" fill="#f23645"/><rect x="507" y="589" width="1" height="32" fill="#089981"/><rect x="506" y="599" width="3" height="22" fill="#089981"/><rect x="511" y="592" width="1" height="17" fill="#f23645"/><rect x="510" y="595" width="3" height="5" fill="#f23645"/><rect x="516" y="580" width="1" height="25" fill="#089981"/><rect x="515" y="590" width="3" height="10" fill="#089981"/><rect x="521" y="587" width="1" height="16" fill="#f23645"/><rect x="520" y="590" width="3" height="6" fill="#f23645"/><rect x="525" y="572" width="1" height="31" fill="#089981"/><rect x="524" y="572" width="3" height="24" fill="#089981"/><rect x="530" y="572" width="1" height="25" fill="#f23645"/><rect x="529" y="572" width="3" height="21" fill="#f23645"/><rect x="535" y="583" width="1" height="26" fill="#f23645"/><rect x="534" y="593" width="3" height="13" fill="#f23645"/><rect x="539" y="596" width="1" height="22" fill="#f23645"/><rect x="538" y="606" width="3" height="11" fill="#f23645"/><rect x="544" y="591" width="1" height="38" fill="#089981"/><rect x="543" y="600" width="3" height="17" fill="#089981"/><rect x="548" y="597" width="1" height="22" fill="#f23645"/><rect x="547" y="600" width="3" height="18" fill="#f23645"/><rect x="553" y="616" width="1" height="24" fill="#f23645"/><rect x="552" y="617" width="3" height="20" fill="#f23645"/><rect x="558" y="619" width="1" height="24" fill="#089981"/><rect x="557" y="633" width="3" height="3" fill="#089981"/><rect x="562" y="609" width="1" height="29" fill="#089981"/><rect x="561" y="611" width="3" height="22" fill="#089981"/><rect x="567" y="599" width="1" height="22" fill="#089981"/><rect x="566" y="609" width="3" height="2" fill="#089981"/><rect x="572" y="599" width="1" height="21" fill="#089981"/><rect x="571" y="608" width="3" height="2" fill="#089981"/><rect x="576" y="599" width="1" height="16" fill="#f23645"/><rect x="575" y="608" width="3" height="5" fill="#f23645"/><rect x="581" y="604" width="1" height="15" fill="#f23645"/><rect x="580" y="612" width="3" height="5" fill="#f23645"/><rect x="585" y="598" width="1" height="19" fill="#089981"/><rect x="584" y="601" width="3" height="16" fill="#089981"/><rect x="590" y="595" width="1" height="28" fill="#f23645"/><rect x="589" y="601" width="3" height="22" fill="#f23645"/><rect x="595" y="619" width="1" height="15" fill="#f23645"/><rect x="594" y="619" width="3" height="14" fill="#f23645"/><rect x="599" y="629" width="1" height="10" fill="#f23645"/><rect x="598" y="631" width="3" height="8" fill="#f23645"/><rect x="604" y="629" width="1" height="18" fill="#f23645"/><rect x="603" y="638" width="3" height="8" fill="#f23645"/><rect x="609" y="645" width="1" height="16" fill="#f23645"/><rect x="608" y="645" width="3" height="15" fill="#f23645"/><rect x="613" y="631" width="1" height="31" fill="#089981"/><rect x="612" y="635" width="3" height="25" fill="#089981"/><rect x="618" y="615" width="1" height="32" fill="#f23645"/><rect x="617" y="634" width="3" height="7" fill="#f23645"/><rect x="622" y="637" width="1" height="12" fill="#f23645"/><rect x="621" y="641" width="3" height="1" fill="#f23645"/><rect x="627" y="638" width="1" height="9" fill="#089981"/><rect x="626" y="640" width="3" height="1" fill="#089981"/><rect x="632" y="629" width="1" height="12" fill="#089981"/><rect x="631" y="636" width="3" height="5" fill="#089981"/><rect x="636" y="626" width="1" height="13" fill="#089981"/><rect x="635" y="634" width="3" height="5" fill="#089981"/><rect x="641" y="632" width="1" height="11" fill="#f23645"/><rect x="640" y="634" width="3" height="4" fill="#f23645"/><rect x="646" y="626" width="1" height="17" fill="#089981"/><rect x="645" y="635" width="3" height="2" fill="#089981"/><rect x="650" y="627" width="1" height="13" fill="#f23645"/><rect x="649" y="634" width="3" height="5" fill="#f23645"/><rect x="655" y="637" width="1" height="9" fill="#f23645"/><rect x="654" y="637" width="3" height="9" fill="#f23645"/><rect x="659" y="632" width="1" height="14" fill="#089981"/><rect x="658" y="640" width="3" height="6" fill="#089981"/><rect x="664" y="628" width="1" height="22" fill="#f23645"/><rect x="663" y="640" width="3" height="9" fill="#f23645"/><rect x="669" y="647" width="1" height="8" fill="#f23645"/><rect x="668" y="647" width="3" height="6" fill="#f23645"/><rect x="673" y="638" width="1" height="15" fill="#089981"/><rect x="672" y="643" width="3" height="10" fill="#089981"/><rect x="678" y="638" width="1" height="9" fill="#f23645"/><rect x="677" y="643" width="3" height="4" fill="#f23645"/><rect x="683" y="649" width="1" height="9" fill="#f23645"/><rect x="682" y="649" width="3" height="8" fill="#f23645"/><rect x="687" y="649" width="1" height="9" fill="#089981"/><rect x="686" y="651" width="3" height="6" fill="#089981"/><rect x="692" y="651" width="1" height="24" fill="#f23645"/><rect x="691" y="656" width="3" height="13" fill="#f23645"/><rect x="696" y="664" width="1" height="10" fill="#f23645"/><rect x="695" y="668" width="3" height="3" fill="#f23645"/><rect x="701" y="669" width="1" height="10" fill="#f23645"/><rect x="700" y="670" width="3" height="7" fill="#f23645"/><rect x="706" y="667" width="1" height="12" fill="#f23645"/><rect x="705" y="676" width="3" height="3" fill="#f23645"/><rect x="710" y="668" width="1" height="11" fill="#089981"/><rect x="709" y="675" width="3" height="4" fill="#089981"/><rect x="715" y="675" width="1" height="4" fill="#f23645"/><rect x="714" y="675" width="3" height="2" fill="#f23645"/><rect x="720" y="674" width="1" height="6" fill="#f23645"/><rect x="719" y="676" width="3" height="1" fill="#f23645"/><rect x="724" y="669" width="1" height="12" fill="#f23645"/><rect x="723" y="677" width="3" height="3" fill="#f23645"/><rect x="729" y="678" width="1" height="9" fill="#f23645"/><rect x="728" y="678" width="3" height="6" fill="#f23645"/><rect x="733" y="680" width="1" height="7" fill="#089981"/><rect x="732" y="681" width="3" height="3" fill="#089981"/><rect x="738" y="677" width="1" height="10" fill="#089981"/><rect x="737" y="679" width="3" height="1" fill="#089981"/><rect x="743" y="677" width="1" height="8" fill="#f23645"/><rect x="742" y="680" width="3" height="4" fill="#f23645"/><rect x="747" y="662" width="1" height="23" fill="#089981"/><rect x="746" y="663" width="3" height="22" fill="#089981"/><rect x="752" y="652" width="1" height="19" fill="#089981"/><rect x="751" y="664" width="3" height="1" fill="#089981"/><rect x="757" y="663" width="1" height="10" fill="#f23645"/><rect x="756" y="664" width="3" height="7" fill="#f23645"/><rect x="761" y="665" width="1" height="11" fill="#089981"/><rect x="760" y="670" width="3" height="1" fill="#089981"/><rect x="766" y="665" width="1" height="8" fill="#f23645"/><rect x="765" y="670" width="3" height="3" fill="#f23645"/><rect x="770" y="664" width="1" height="10" fill="#089981"/><rect x="769" y="669" width="3" height="4" fill="#089981"/><rect x="775" y="665" width="1" height="11" fill="#089981"/><rect x="774" y="668" width="3" height="1" fill="#089981"/><rect x="780" y="642" width="1" height="27" fill="#089981"/><rect x="779" y="643" width="3" height="26" fill="#089981"/><rect x="784" y="641" width="1" height="16" fill="#f23645"/><rect x="783" y="643" width="3" height="10" fill="#f23645"/><rect x="789" y="648" width="1" height="5" fill="#089981"/><rect x="788" y="652" width="3" height="1" fill="#089981"/><rect x="794" y="648" width="1" height="9" fill="#f23645"/><rect x="793" y="652" width="3" height="5" fill="#f23645"/><rect x="798" y="644" width="1" height="15" fill="#089981"/><rect x="797" y="645" width="3" height="12" fill="#089981"/><rect x="803" y="616" width="1" height="30" fill="#089981"/><rect x="802" y="624" width="3" height="22" fill="#089981"/><rect x="807" y="616" width="1" height="19" fill="#089981"/><rect x="806" y="622" width="3" height="3" fill="#089981"/><rect x="812" y="612" width="1" height="20" fill="#f23645"/><rect x="811" y="622" width="3" height="3" fill="#f23645"/><rect x="817" y="614" width="1" height="18" fill="#089981"/><rect x="816" y="618" width="3" height="7" fill="#089981"/><rect x="821" y="616" width="1" height="12" fill="#f23645"/><rect x="820" y="618" width="3" height="9" fill="#f23645"/><rect x="826" y="610" width="1" height="18" fill="#089981"/><rect x="825" y="611" width="3" height="16" fill="#089981"/><rect x="831" y="592" width="1" height="27" fill="#089981"/><rect x="830" y="595" width="3" height="24" fill="#089981"/><rect x="835" y="583" width="1" height="19" fill="#f23645"/><rect x="834" y="592" width="3" height="10" fill="#f23645"/><rect x="840" y="584" width="1" height="20" fill="#089981"/><rect x="839" y="597" width="3" height="1" fill="#089981"/><rect x="844" y="590" width="1" height="25" fill="#f23645"/><rect x="843" y="597" width="3" height="4" fill="#f23645"/><rect x="849" y="594" width="1" height="27" fill="#f23645"/><rect x="848" y="600" width="3" height="20" fill="#f23645"/><rect x="854" y="617" width="1" height="10" fill="#089981"/><rect x="853" y="621" width="3" height="3" fill="#089981"/><rect x="858" y="610" width="1" height="18" fill="#f23645"/><rect x="857" y="621" width="3" height="5" fill="#f23645"/><rect x="863" y="620" width="1" height="8" fill="#f23645"/><rect x="862" y="625" width="3" height="2" fill="#f23645"/><rect x="868" y="623" width="1" height="9" fill="#f23645"/><rect x="867" y="626" width="3" height="3" fill="#f23645"/><rect x="872" y="601" width="1" height="27" fill="#089981"/><rect x="871" y="616" width="3" height="12" fill="#089981"/><rect x="877" y="605" width="1" height="16" fill="#089981"/><rect x="876" y="610" width="3" height="7" fill="#089981"/><rect x="881" y="578" width="1" height="35" fill="#089981"/><rect x="880" y="594" width="3" height="16" fill="#089981"/><rect x="886" y="592" width="1" height="19" fill="#f23645"/><rect x="885" y="593" width="3" height="14" fill="#f23645"/><rect x="891" y="598" width="1" height="22" fill="#089981"/><rect x="890" y="602" width="3" height="5" fill="#089981"/><rect x="895" y="592" width="1" height="14" fill="#089981"/><rect x="894" y="593" width="3" height="10" fill="#089981"/><rect x="900" y="580" width="1" height="25" fill="#f23645"/><rect x="899" y="591" width="3" height="8" fill="#f23645"/><rect x="905" y="595" width="1" height="7" fill="#089981"/><rect x="904" y="598" width="3" height="1" fill="#089981"/><rect x="909" y="588" width="1" height="13" fill="#089981"/><rect x="908" y="596" width="3" height="3" fill="#089981"/><rect x="914" y="592" width="1" height="17" fill="#089981"/><rect x="913" y="595" width="3" height="1" fill="#089981"/><rect x="918" y="593" width="1" height="14" fill="#f23645"/><rect x="917" y="595" width="3" height="6" fill="#f23645"/><rect x="923" y="587" width="1" height="18" fill="#089981"/><rect x="922" y="590" width="3" height="11" fill="#089981"/><rect x="928" y="579" width="1" height="12" fill="#089981"/><rect x="927" y="584" width="3" height="7" fill="#089981"/><rect x="932" y="552" width="1" height="25" fill="#089981"/><rect x="931" y="565" width="3" height="6" fill="#089981"/><rect x="937" y="541" width="1" height="24" fill="#089981"/><rect x="936" y="548" width="3" height="17" fill="#089981"/><rect x="942" y="538" width="1" height="12" fill="#f23645"/><rect x="941" y="544" width="3" height="2" fill="#f23645"/><rect x="946" y="534" width="1" height="15" fill="#089981"/><rect x="945" y="540" width="3" height="2" fill="#089981"/><rect x="951" y="531" width="1" height="15" fill="#f23645"/><rect x="950" y="540" width="3" height="6" fill="#f23645"/><rect x="955" y="533" width="1" height="12" fill="#f23645"/><rect x="954" y="535" width="3" height="9" fill="#f23645"/><rect x="960" y="526" width="1" height="25" fill="#089981"/><rect x="959" y="534" width="3" height="10" fill="#089981"/><rect x="965" y="526" width="1" height="55" fill="#f23645"/><rect x="964" y="534" width="3" height="19" fill="#f23645"/><rect x="969" y="540" width="1" height="15" fill="#089981"/><rect x="968" y="544" width="3" height="7" fill="#089981"/><rect x="974" y="540" width="1" height="10" fill="#f23645"/><rect x="973" y="543" width="3" height="1" fill="#f23645"/><rect x="979" y="540" width="1" height="11" fill="#f23645"/><rect x="978" y="541" width="3" height="4" fill="#f23645"/><rect x="983" y="535" width="1" height="22" fill="#f23645"/><rect x="982" y="547" width="3" height="4" fill="#f23645"/><rect x="988" y="531" width="1" height="20" fill="#089981"/><rect x="987" y="540" width="3" height="11" fill="#089981"/><rect x="992" y="535" width="1" height="9" fill="#089981"/><rect x="991" y="539" width="3" height="2" fill="#089981"/><rect x="997" y="534" width="1" height="9" fill="#089981"/><rect x="996" y="540" width="3" height="2" fill="#089981"/><rect x="1002" y="504" width="1" height="41" fill="#089981"/><rect x="1001" y="504" width="3" height="36" fill="#089981"/><rect x="1006" y="462" width="1" height="53" fill="#089981"/><rect x="1005" y="473" width="3" height="32" fill="#089981"/><rect x="1011" y="463" width="1" height="22" fill="#089981"/><rect x="1010" y="469" width="3" height="5" fill="#089981"/><rect x="1016" y="401" width="1" height="86" fill="#089981"/><rect x="1015" y="432" width="3" height="37" fill="#089981"/><rect x="1020" y="419" width="1" height="29" fill="#f23645"/><rect x="1019" y="432" width="3" height="1" fill="#f23645"/><rect x="1025" y="433" width="1" height="38" fill="#f23645"/><rect x="1024" y="433" width="3" height="20" fill="#f23645"/><rect x="1029" y="451" width="1" height="28" fill="#f23645"/><rect x="1028" y="452" width="3" height="22" fill="#f23645"/><rect x="1034" y="445" width="1" height="42" fill="#089981"/><rect x="1033" y="472" width="3" height="2" fill="#089981"/><rect x="1039" y="451" width="1" height="38" fill="#f23645"/><rect x="1038" y="473" width="3" height="2" fill="#f23645"/><rect x="1043" y="437" width="1" height="54" fill="#089981"/><rect x="1042" y="453" width="3" height="22" fill="#089981"/><rect x="1048" y="451" width="1" height="48" fill="#f23645"/><rect x="1047" y="452" width="3" height="38" fill="#f23645"/><rect x="1052" y="475" width="1" height="43" fill="#089981"/><rect x="1051" y="488" width="3" height="15" fill="#089981"/><rect x="1057" y="465" width="1" height="19" fill="#089981"/><rect x="1056" y="471" width="3" height="6" fill="#089981"/><rect x="1062" y="458" width="1" height="25" fill="#089981"/><rect x="1061" y="460" width="3" height="12" fill="#089981"/><rect x="1066" y="456" width="1" height="8" fill="#f23645"/><rect x="1065" y="460" width="3" height="3" fill="#f23645"/><rect x="1071" y="451" width="1" height="16" fill="#089981"/><rect x="1070" y="456" width="3" height="7" fill="#089981"/><rect x="1076" y="450" width="1" height="23" fill="#f23645"/><rect x="1075" y="456" width="3" height="4" fill="#f23645"/><rect x="1080" y="450" width="1" height="20" fill="#f23645"/><rect x="1079" y="454" width="3" height="4" fill="#f23645"/><rect x="1085" y="429" width="1" height="29" fill="#089981"/><rect x="1084" y="452" width="3" height="6" fill="#089981"/><rect x="1089" y="445" width="1" height="22" fill="#f23645"/><rect x="1088" y="452" width="3" height="8" fill="#f23645"/><rect x="1094" y="454" width="1" height="31" fill="#f23645"/><rect x="1093" y="454" width="3" height="21" fill="#f23645"/><rect x="1099" y="451" width="1" height="34" fill="#089981"/><rect x="1098" y="461" width="3" height="14" fill="#089981"/><rect x="1103" y="433" width="1" height="28" fill="#089981"/><rect x="1102" y="438" width="3" height="23" fill="#089981"/><rect x="1108" y="412" width="1" height="27" fill="#089981"/><rect x="1107" y="422" width="3" height="17" fill="#089981"/><rect x="1113" y="396" width="1" height="28" fill="#089981"/><rect x="1112" y="420" width="3" height="4" fill="#089981"/><rect x="1117" y="412" width="1" height="22" fill="#089981"/><rect x="1116" y="419" width="3" height="1" fill="#089981"/><rect x="1122" y="394" width="1" height="25" fill="#089981"/><rect x="1121" y="404" width="3" height="15" fill="#089981"/><rect x="1126" y="396" width="1" height="15" fill="#089981"/><rect x="1125" y="404" width="3" height="1" fill="#089981"/><rect x="1131" y="399" width="1" height="32" fill="#089981"/><rect x="1130" y="400" width="3" height="4" fill="#089981"/><rect x="1136" y="399" width="1" height="23" fill="#f23645"/><rect x="1135" y="399" width="3" height="14" fill="#f23645"/><rect x="1140" y="384" width="1" height="29" fill="#089981"/><rect x="1139" y="393" width="3" height="20" fill="#089981"/><rect x="1145" y="385" width="1" height="18" fill="#f23645"/><rect x="1144" y="386" width="3" height="16" fill="#f23645"/><rect x="1150" y="396" width="1" height="56" fill="#f23645"/><rect x="1149" y="401" width="3" height="38" fill="#f23645"/><rect x="1154" y="416" width="1" height="32" fill="#f23645"/><rect x="1153" y="438" width="3" height="4" fill="#f23645"/><rect x="1159" y="435" width="1" height="36" fill="#f23645"/><rect x="1158" y="441" width="3" height="29" fill="#f23645"/><rect x="1163" y="461" width="1" height="15" fill="#f23645"/><rect x="1162" y="469" width="3" height="4" fill="#f23645"/><rect x="1168" y="438" width="1" height="35" fill="#089981"/><rect x="1167" y="445" width="3" height="28" fill="#089981"/><rect x="1173" y="431" width="1" height="33" fill="#f23645"/><rect x="1172" y="444" width="3" height="11" fill="#f23645"/><rect x="1177" y="442" width="1" height="16" fill="#089981"/><rect x="1176" y="454" width="3" height="1" fill="#089981"/><rect x="1182" y="455" width="1" height="24" fill="#f23645"/><rect x="1181" y="464" width="3" height="9" fill="#f23645"/><rect x="1187" y="461" width="1" height="38" fill="#f23645"/><rect x="1186" y="472" width="3" height="13" fill="#f23645"/><rect x="1191" y="462" width="1" height="29" fill="#f23645"/><rect x="1190" y="485" width="3" height="6" fill="#f23645"/><rect x="1196" y="456" width="1" height="29" fill="#089981"/><rect x="1195" y="478" width="3" height="7" fill="#089981"/><rect x="1200" y="474" width="1" height="14" fill="#089981"/><rect x="1199" y="476" width="3" height="2" fill="#089981"/><rect x="1205" y="473" width="1" height="40" fill="#f23645"/><rect x="1204" y="489" width="3" height="3" fill="#f23645"/><rect x="1210" y="488" width="1" height="35" fill="#f23645"/><rect x="1209" y="491" width="3" height="28" fill="#f23645"/><rect x="1214" y="464" width="1" height="67" fill="#089981"/><rect x="1213" y="473" width="3" height="50" fill="#089981"/><rect x="1219" y="456" width="1" height="24" fill="#089981"/><rect x="1218" y="461" width="3" height="13" fill="#089981"/><rect x="1224" y="443" width="1" height="32" fill="#089981"/><rect x="1223" y="454" width="3" height="7" fill="#089981"/><rect x="1228" y="428" width="1" height="30" fill="#089981"/><rect x="1227" y="441" width="3" height="14" fill="#089981"/><rect x="1233" y="424" width="1" height="18" fill="#089981"/><rect x="1232" y="433" width="3" height="8" fill="#089981"/><rect x="1237" y="424" width="1" height="21" fill="#089981"/><rect x="1236" y="426" width="3" height="8" fill="#089981"/><rect x="1242" y="409" width="1" height="46" fill="#089981"/><rect x="1241" y="420" width="3" height="7" fill="#089981"/><rect x="1247" y="411" width="1" height="42" fill="#f23645"/><rect x="1246" y="420" width="3" height="27" fill="#f23645"/><rect x="1251" y="436" width="1" height="41" fill="#f23645"/><rect x="1250" y="447" width="3" height="21" fill="#f23645"/><rect x="1256" y="452" width="1" height="41" fill="#f23645"/><rect x="1255" y="468" width="3" height="19" fill="#f23645"/><rect x="1261" y="481" width="1" height="24" fill="#f23645"/><rect x="1260" y="495" width="3" height="9" fill="#f23645"/><rect x="1265" y="499" width="1" height="26" fill="#f23645"/><rect x="1264" y="503" width="3" height="6" fill="#f23645"/><rect x="1270" y="485" width="1" height="30" fill="#089981"/><rect x="1269" y="492" width="3" height="23" fill="#089981"/><rect x="1274" y="440" width="1" height="70" fill="#089981"/><rect x="1273" y="481" width="3" height="12" fill="#089981"/><rect x="1279" y="467" width="1" height="25" fill="#089981"/><rect x="1278" y="477" width="3" height="4" fill="#089981"/><rect x="1284" y="470" width="1" height="28" fill="#f23645"/><rect x="1283" y="477" width="3" height="14" fill="#f23645"/><rect x="1288" y="459" width="1" height="40" fill="#089981"/><rect x="1287" y="461" width="3" height="23" fill="#089981"/><rect x="1293" y="404" width="1" height="67" fill="#089981"/><rect x="1292" y="420" width="3" height="43" fill="#089981"/><rect x="1298" y="328" width="1" height="79" fill="#089981"/><rect x="1297" y="387" width="3" height="15" fill="#089981"/><rect x="1302" y="374" width="1" height="29" fill="#089981"/><rect x="1301" y="374" width="3" height="13" fill="#089981"/></g><line x1="724" y1="222.5" x2="805.5" y2="26" stroke="#2962ff" stroke-width="1.2" clip-path="url(#cp)"/><rect x="11" y="761.5" width="1331" height="51.8" fill="rgba(126,87,194,0.1)"/><polygon points="7.5,761.5 7.5,753.1 12.5,752.0 17.5,752.2 21.5,746.0 26.5,744.2 31.5,749.5 35.5,749.1 40.5,745.0 44.5,761.5 49.5,761.5 54.5,761.5 58.5,761.5 63.5,761.5 68.5,761.5 72.5,761.5 77.5,761.5 81.5,761.5 86.5,761.5 91.5,761.5 95.5,761.5 100.5,761.5 105.5,761.5 109.5,761.5 114.5,761.5 118.5,761.5 123.5,761.5 128.5,761.5 132.5,761.5 137.5,761.5 142.5,761.5 146.5,761.5 151.5,761.5 155.5,761.5 160.5,761.5 165.5,761.5 169.5,761.5 174.5,761.5 179.5,761.5 183.5,761.5 188.5,761.5 192.5,761.5 197.5,761.5 202.5,761.5 206.5,761.5 211.5,761.5 216.5,761.5 220.5,761.5 225.5,761.5 229.5,761.5 234.5,761.5 239.5,761.5 243.5,761.5 248.5,761.5 253.5,761.5 257.5,761.5 262.5,761.5 266.5,761.5 271.5,761.5 276.5,761.5 280.5,761.5 285.5,761.5 290.5,761.5 294.5,761.5 299.5,761.5 303.5,761.5 308.5,761.5 313.5,761.5 317.5,761.5 322.5,761.5 327.5,761.5 331.5,761.5 336.5,761.5 340.5,761.5 345.5,761.5 350.5,761.5 354.5,761.5 359.5,761.5 364.5,761.5 368.5,761.5 373.5,761.5 377.5,761.5 382.5,761.5 387.5,761.5 391.5,761.5 396.5,761.5 401.5,761.5 405.5,761.5 410.5,761.5 414.5,761.5 419.5,761.5 424.5,761.5 428.5,761.5 433.5,761.5 438.5,761.5 442.5,761.5 447.5,761.5 451.5,761.5 456.5,761.5 461.5,761.5 465.5,761.5 470.5,761.5 475.5,761.5 479.5,761.5 484.5,761.5 488.5,761.5 493.5,761.5 498.5,761.5 502.5,761.5 507.5,761.5 511.5,761.5 516.5,761.5 521.5,761.5 525.5,761.5 530.5,761.5 535.5,761.5 539.5,761.5 544.5,761.5 548.5,761.5 553.5,761.5 558.5,761.5 562.5,761.5 567.5,761.5 572.5,761.5 576.5,761.5 581.5,761.5 585.5,761.5 590.5,761.5 595.5,761.5 599.5,761.5 604.5,761.5 609.5,761.5 613.5,761.5 618.5,761.5 622.5,761.5 627.5,761.5 632.5,761.5 636.5,761.5 641.5,761.5 646.5,761.5 650.5,761.5 655.5,761.5 659.5,761.5 664.5,761.5 669.5,761.5 673.5,761.5 678.5,761.5 683.5,761.5 687.5,761.5 692.5,761.5 696.5,761.5 701.5,761.5 706.5,761.5 710.5,761.5 715.5,761.5 720.5,761.5 724.5,761.5 729.5,761.5 733.5,761.5 738.5,761.5 743.5,761.5 747.5,761.5 752.5,761.5 757.5,761.5 761.5,761.5 766.5,761.5 770.5,761.5 775.5,761.5 780.5,761.5 784.5,761.5 789.5,761.5 794.5,761.5 798.5,761.5 803.5,761.5 807.5,761.4 812.5,761.5 817.5,761.5 821.5,761.5 826.5,761.5 831.5,756.4 835.5,761.5 840.5,761.2 844.5,761.5 849.5,761.5 854.5,761.5 858.5,761.5 863.5,761.5 868.5,761.5 872.5,761.5 877.5,761.5 881.5,761.5 886.5,761.5 891.5,761.5 895.5,761.5 900.5,761.5 905.5,761.5 909.5,761.5 914.5,761.5 918.5,761.5 923.5,761.5 928.5,761.5 932.5,758.0 937.5,752.2 942.5,751.5 946.5,749.6 951.5,756.3 955.5,755.8 960.5,752.0 965.5,761.5 969.5,761.5 974.5,761.5 979.5,761.5 983.5,761.5 988.5,761.5 992.5,761.5 997.5,761.5 1002.5,752.3 1006.5,745.2 1011.5,744.4 1016.5,739.0 1020.5,739.8 1025.5,754.9 1029.5,761.5 1034.5,761.5 1039.5,761.5 1043.5,761.5 1048.5,761.5 1052.5,761.5 1057.5,761.5 1062.5,761.5 1066.5,761.5 1071.5,761.5 1076.5,761.5 1080.5,761.5 1085.5,761.5 1089.5,761.5 1094.5,761.5 1099.5,761.5 1103.5,761.5 1108.5,761.5 1113.5,761.5 1117.5,761.5 1122.5,757.9 1126.5,757.9 1131.5,756.6 1136.5,761.5 1140.5,760.4 1145.5,761.5 1150.5,761.5 1154.5,761.5 1159.5,761.5 1163.5,761.5 1168.5,761.5 1173.5,761.5 1177.5,761.5 1182.5,761.5 1187.5,761.5 1191.5,761.5 1196.5,761.5 1200.5,761.5 1205.5,761.5 1210.5,761.5 1214.5,761.5 1219.5,761.5 1224.5,761.5 1228.5,761.5 1233.5,761.5 1237.5,761.5 1242.5,761.5 1247.5,761.5 1251.5,761.5 1256.5,761.5 1261.5,761.5 1265.5,761.5 1270.5,761.5 1274.5,761.5 1279.5,761.5 1284.5,761.5 1288.5,761.5 1293.5,761.5 1298.5,761.5 1302.5,761.5 1302.5,761.5" fill="url(#ob)" clip-path="url(#cr)"/><line x1="10" y1="761.5" x2="1342" y2="761.5" stroke="#787b86" stroke-width="1" stroke-dasharray="5 6" clip-path="url(#cr)"/><line x1="10" y1="787.4" x2="1342" y2="787.4" stroke="rgba(120,123,134,0.75)" stroke-width="1" stroke-dasharray="5 6" clip-path="url(#cr)"/><line x1="10" y1="813.3" x2="1342" y2="813.3" stroke="#787b86" stroke-width="1" stroke-dasharray="5 6" clip-path="url(#cr)"/><polyline points="7.5,753.1 12.5,752.0 17.5,752.2 21.5,746.0 26.5,744.2 31.5,749.5 35.5,749.1 40.5,745.0 44.5,775.0 49.5,780.2 54.5,782.6 58.5,782.2 63.5,776.7 68.5,790.2 72.5,788.8 77.5,796.6 81.5,780.8 86.5,780.6 91.5,777.1 95.5,782.8 100.5,787.4 105.5,794.6 109.5,794.0 114.5,788.6 118.5,790.5 123.5,790.3 128.5,791.5 132.5,789.8 137.5,795.5 142.5,791.9 146.5,796.5 151.5,802.7 155.5,804.3 160.5,805.4 165.5,811.9 169.5,819.4 174.5,815.5 179.5,790.3 183.5,792.3 188.5,793.3 192.5,797.4 197.5,799.4 202.5,802.3 206.5,802.4 211.5,803.8 216.5,807.8 220.5,799.9 225.5,802.7 229.5,797.2 234.5,794.2 239.5,795.8 243.5,807.8 248.5,797.3 253.5,799.8 257.5,802.8 262.5,802.1 266.5,796.2 271.5,800.7 276.5,790.8 280.5,797.9 285.5,799.8 290.5,796.2 294.5,795.0 299.5,801.3 303.5,793.2 308.5,797.8 313.5,801.5 317.5,792.4 322.5,794.0 327.5,793.1 331.5,796.3 336.5,791.6 340.5,795.5 345.5,794.6 350.5,808.0 354.5,809.7 359.5,815.3 364.5,801.8 368.5,802.8 373.5,806.9 377.5,807.2 382.5,803.2 387.5,804.6 391.5,802.5 396.5,802.6 401.5,797.3 405.5,797.9 410.5,799.0 414.5,788.1 419.5,797.3 424.5,810.0 428.5,796.0 433.5,797.5 438.5,799.7 442.5,800.1 447.5,804.8 451.5,800.8 456.5,802.9 461.5,801.0 465.5,804.3 470.5,804.4 475.5,805.3 479.5,800.6 484.5,801.2 488.5,807.5 493.5,810.6 498.5,809.7 502.5,816.1 507.5,793.9 511.5,794.4 516.5,786.8 521.5,790.7 525.5,775.3 530.5,789.4 535.5,796.1 539.5,801.1 544.5,790.6 548.5,798.9 553.5,805.8 558.5,803.3 562.5,791.1 567.5,790.2 572.5,789.8 576.5,792.1 581.5,794.4 585.5,784.7 590.5,795.9 595.5,800.3 599.5,802.6 604.5,805.5 609.5,810.7 613.5,795.0 618.5,797.8 622.5,797.8 627.5,796.6 632.5,794.2 636.5,792.7 641.5,795.2 646.5,793.3 650.5,795.4 655.5,799.8 659.5,795.1 664.5,800.6 669.5,803.1 673.5,793.9 678.5,796.5 683.5,803.4 687.5,797.2 692.5,807.3 696.5,808.5 701.5,811.4 706.5,812.5 710.5,807.8 715.5,808.6 720.5,808.9 724.5,810.9 729.5,813.4 733.5,809.0 738.5,806.6 743.5,810.3 747.5,785.6 752.5,786.7 757.5,793.2 761.5,792.0 766.5,794.5 770.5,789.9 775.5,789.1 780.5,768.3 784.5,778.8 789.5,777.5 794.5,782.3 798.5,773.8 803.5,762.5 807.5,761.4 812.5,764.7 817.5,761.5 821.5,770.8 826.5,762.7 831.5,756.4 835.5,763.5 840.5,761.2 844.5,765.1 849.5,780.7 854.5,781.2 858.5,785.1 863.5,785.6 868.5,787.5 872.5,778.3 877.5,774.2 881.5,765.9 886.5,776.6 891.5,773.9 895.5,769.1 900.5,774.3 905.5,773.6 909.5,772.6 914.5,771.8 918.5,778.1 923.5,770.7 928.5,767.2 932.5,758.0 937.5,752.2 942.5,751.5 946.5,749.6 951.5,756.3 955.5,755.8 960.5,752.0 965.5,771.0 969.5,766.8 974.5,766.6 979.5,768.2 983.5,773.4 988.5,767.4 992.5,767.0 997.5,767.8 1002.5,752.3 1006.5,745.2 1011.5,744.4 1016.5,739.0 1020.5,739.8 1025.5,754.9 1029.5,768.5 1034.5,767.9 1039.5,769.9 1043.5,762.6 1048.5,781.8 1052.5,781.4 1057.5,775.1 1062.5,771.3 1066.5,773.0 1071.5,770.6 1076.5,773.2 1080.5,772.2 1085.5,770.0 1089.5,775.4 1094.5,784.3 1099.5,777.8 1103.5,768.6 1108.5,763.5 1113.5,762.9 1117.5,762.5 1122.5,757.9 1126.5,757.9 1131.5,756.6 1136.5,767.4 1140.5,760.4 1145.5,767.0 1150.5,787.7 1154.5,789.0 1159.5,800.3 1163.5,801.3 1168.5,788.0 1173.5,791.9 1177.5,791.7 1182.5,799.0 1187.5,803.4 1191.5,805.4 1196.5,797.9 1200.5,796.7 1205.5,803.0 1210.5,811.6 1214.5,789.8 1219.5,785.7 1224.5,783.1 1228.5,778.7 1233.5,776.1 1237.5,773.6 1242.5,771.9 1247.5,784.7 1251.5,792.7 1256.5,798.9 1261.5,803.9 1265.5,805.3 1270.5,797.4 1274.5,792.4 1279.5,790.8 1284.5,796.1 1288.5,783.5 1293.5,771.4 1298.5,764.1 1302.5,761.5" fill="none" stroke="#9c51c9" stroke-width="1.25" stroke-linejoin="round" clip-path="url(#cr)"/><polyline points="7.5,753.1 12.5,751.2 17.5,751.3 21.5,750.9 26.5,750.4 31.5,750.3 35.5,750.1 40.5,749.7 44.5,751.4 49.5,753.5 54.5,755.7 58.5,757.9 63.5,759.8 68.5,762.6 72.5,765.3 77.5,768.4 81.5,770.5 86.5,773.0 91.5,775.3 95.5,777.7 100.5,780.4 105.5,784.0 109.5,785.3 114.5,785.9 118.5,786.5 123.5,787.1 128.5,788.1 132.5,788.1 137.5,788.6 142.5,788.2 146.5,789.4 151.5,790.9 155.5,792.9 160.5,794.5 165.5,796.3 169.5,798.0 174.5,799.6 179.5,799.7 183.5,799.8 188.5,800.0 192.5,800.4 197.5,801.1 202.5,801.6 206.5,802.4 211.5,802.9 216.5,803.3 220.5,802.9 225.5,802.7 229.5,801.7 234.5,799.9 239.5,798.5 243.5,799.7 248.5,800.1 253.5,800.6 257.5,801.0 262.5,801.1 266.5,800.7 271.5,800.6 276.5,799.7 280.5,799.0 285.5,798.9 290.5,798.5 294.5,798.3 299.5,798.8 303.5,798.6 308.5,797.9 313.5,798.2 317.5,797.7 322.5,797.1 327.5,796.4 331.5,796.4 336.5,795.8 340.5,796.1 345.5,795.9 350.5,796.5 354.5,797.4 359.5,798.9 364.5,798.9 368.5,799.6 373.5,800.3 377.5,800.7 382.5,801.4 387.5,802.2 391.5,802.9 396.5,803.3 401.5,803.7 405.5,803.9 410.5,804.2 414.5,802.8 419.5,801.9 424.5,801.5 428.5,801.1 433.5,800.7 438.5,800.2 442.5,799.7 447.5,799.8 451.5,799.5 456.5,799.6 461.5,799.5 465.5,799.9 470.5,800.4 475.5,800.9 479.5,801.8 484.5,802.0 488.5,801.9 493.5,802.9 498.5,803.8 502.5,804.9 507.5,804.5 511.5,803.8 516.5,802.8 521.5,801.9 525.5,800.1 530.5,799.0 535.5,798.4 539.5,798.1 544.5,797.4 548.5,797.2 553.5,797.1 558.5,796.6 562.5,795.2 567.5,793.4 572.5,793.1 576.5,792.9 581.5,793.5 585.5,793.1 590.5,794.5 595.5,795.3 599.5,795.8 604.5,796.1 609.5,797.5 613.5,797.3 618.5,796.7 622.5,796.3 627.5,796.7 632.5,797.0 636.5,797.2 641.5,797.4 646.5,797.3 650.5,798.1 655.5,798.3 659.5,798.0 664.5,797.8 669.5,797.7 673.5,796.5 678.5,796.6 683.5,797.0 687.5,796.9 692.5,797.7 696.5,798.7 701.5,800.0 706.5,801.3 710.5,802.3 715.5,803.3 720.5,803.9 724.5,805.0 729.5,806.0 733.5,806.4 738.5,807.3 743.5,808.3 747.5,807.0 752.5,806.3 757.5,805.3 761.5,804.1 766.5,802.9 770.5,801.3 775.5,799.9 780.5,797.0 784.5,794.9 789.5,792.5 794.5,790.3 798.5,787.8 803.5,784.6 807.5,781.1 812.5,779.6 817.5,777.8 821.5,776.2 826.5,774.1 831.5,771.4 835.5,769.5 840.5,767.5 844.5,767.3 849.5,767.4 854.5,767.7 858.5,767.9 863.5,768.7 868.5,770.5 872.5,771.7 877.5,772.4 881.5,772.7 886.5,773.1 891.5,773.9 895.5,774.9 900.5,775.6 905.5,776.5 909.5,777.1 914.5,776.4 918.5,776.2 923.5,775.2 928.5,773.9 932.5,771.7 937.5,769.9 942.5,768.3 946.5,767.1 951.5,765.6 955.5,764.4 960.5,763.1 965.5,762.9 969.5,762.4 974.5,762.0 979.5,761.7 983.5,761.4 988.5,761.1 992.5,761.1 997.5,761.8 1002.5,761.8 1006.5,761.4 1011.5,761.0 1016.5,759.8 1020.5,758.6 1025.5,758.8 1029.5,758.7 1034.5,758.7 1039.5,759.0 1043.5,758.6 1048.5,759.2 1052.5,760.2 1057.5,760.8 1062.5,761.0 1066.5,762.5 1071.5,764.3 1076.5,766.4 1080.5,768.7 1085.5,770.9 1089.5,772.3 1094.5,773.5 1099.5,774.2 1103.5,774.1 1108.5,774.2 1113.5,772.8 1117.5,771.5 1122.5,770.2 1126.5,769.3 1131.5,768.1 1136.5,767.9 1140.5,767.0 1145.5,766.6 1150.5,767.9 1154.5,768.8 1159.5,770.0 1163.5,771.7 1168.5,773.0 1173.5,775.1 1177.5,777.1 1182.5,779.7 1187.5,783.0 1191.5,786.4 1196.5,789.3 1200.5,791.4 1205.5,794.4 1210.5,797.6 1214.5,797.8 1219.5,797.6 1224.5,796.3 1228.5,794.7 1233.5,793.8 1237.5,792.5 1242.5,791.1 1247.5,790.1 1251.5,789.3 1256.5,788.9 1261.5,789.3 1265.5,789.9 1270.5,789.5 1274.5,788.2 1279.5,788.2 1284.5,789.0 1288.5,789.0 1293.5,788.5 1298.5,787.6 1302.5,786.8" fill="none" stroke="#f23645" stroke-width="1.25" stroke-linejoin="round" clip-path="url(#cr)"/><rect x="11" y="726" width="1395" height="1" fill="#e0e3eb" shape-rendering="crispEdges"/></svg>
<svg style="position:absolute;left:0;top:0" width="1416" height="917" font-family="Liberation Sans, sans-serif" style="unicode-bidi:bidi-override;direction:ltr"><text x="9.6" y="18.9" font-size="12.5" fill="#131722" stroke="#131722" stroke-width="0.2" textLength="47.8" lengthAdjust="spacingAndGlyphs">divd7777</text><text x="61.5" y="18.9" font-size="12.5" fill="#131722" stroke="#131722" stroke-width="0.2" textLength="14.5" lengthAdjust="spacingAndGlyphs">םע</text><text x="78.9" y="18.9" font-size="12.5" fill="#131722" stroke="#131722" stroke-width="0.2" textLength="20.0" lengthAdjust="spacingAndGlyphs">רצונ</text><text x="101.7" y="18.9" font-size="12.5" fill="#131722" stroke="#131722" stroke-width="0.2" textLength="94.2" lengthAdjust="spacingAndGlyphs">TradingView.com,</text><text x="200.6" y="18.9" font-size="12.5" fill="#131722" stroke="#131722" stroke-width="0.2" textLength="29.0" lengthAdjust="spacingAndGlyphs">12:17</text><text x="233.7" y="18.9" font-size="12.5" fill="#131722" stroke="#131722" stroke-width="0.2" textLength="24.5" lengthAdjust="spacingAndGlyphs">2026</text><text x="262.9" y="18.9" font-size="12.5" fill="#131722" stroke="#131722" stroke-width="0.2" textLength="16.3" lengthAdjust="spacingAndGlyphs">,23</text><text x="281.4" y="18.9" font-size="12.5" fill="#131722" stroke="#131722" stroke-width="0.2" textLength="23.8" lengthAdjust="spacingAndGlyphs">'רפא</text><text x="307.4" y="18.9" font-size="12.5" fill="#131722" stroke="#131722" stroke-width="0.2" textLength="34.1" lengthAdjust="spacingAndGlyphs">UTC+3</text><text x="17.3" y="45.7" font-size="12.5" fill="#131722" stroke="#131722" stroke-width="0.2" textLength="30.2" lengthAdjust="spacingAndGlyphs">עובש1</text><text x="59.7" y="45.7" font-size="12.5" fill="#131722" stroke="#131722" stroke-width="0.2" textLength="26.0" lengthAdjust="spacingAndGlyphs">לסקא</text><text x="98.2" y="45.7" font-size="12.5" fill="#131722" stroke="#131722" stroke-width="0.2" textLength="24.3" lengthAdjust="spacingAndGlyphs">TASE</text><text x="129.0" y="45.7" font-size="12.5" fill="#131722" stroke="#131722" stroke-width="0.2" textLength="7.7" lengthAdjust="spacingAndGlyphs">פ</text><text x="136.3" y="45.7" font-size="12.5" fill="#089981" stroke="#089981" stroke-width="0.2" textLength="29.2" lengthAdjust="spacingAndGlyphs">214.3</text><text x="172.7" y="45.7" font-size="12.5" fill="#131722" stroke="#131722" stroke-width="0.2" textLength="5.8" lengthAdjust="spacingAndGlyphs">ג</text><text x="178.1" y="45.7" font-size="12.5" fill="#089981" stroke="#089981" stroke-width="0.2" textLength="29.6" lengthAdjust="spacingAndGlyphs">221.5</text><text x="214.1" y="45.7" font-size="12.5" fill="#131722" stroke="#131722" stroke-width="0.2" textLength="6.4" lengthAdjust="spacingAndGlyphs">נ</text><text x="219.9" y="45.7" font-size="12.5" fill="#089981" stroke="#089981" stroke-width="0.2" textLength="29.1" lengthAdjust="spacingAndGlyphs">206.0</text><text x="255.4" y="45.7" font-size="12.5" fill="#131722" stroke="#131722" stroke-width="0.2" textLength="7.1" lengthAdjust="spacingAndGlyphs">ס</text><text x="262.1" y="45.7" font-size="12.5" fill="#089981" stroke="#089981" stroke-width="0.2" textLength="30.1" lengthAdjust="spacingAndGlyphs">220.9</text><text x="299.5" y="45.7" font-size="12.5" fill="#089981" stroke="#089981" stroke-width="0.2" textLength="72.2" lengthAdjust="spacingAndGlyphs">+6.6 (+3.08%)</text><text x="17.7" y="62.8" font-size="12.5" fill="#131722" stroke="#131722" stroke-width="0.2" textLength="28.2" lengthAdjust="spacingAndGlyphs">רוזחמ</text><circle cx="53.8" cy="41.8" r="1.05" fill="#131722"/><circle cx="90.8" cy="41.8" r="1.05" fill="#131722"/><text x="53.3" y="62.8" font-size="12.5" fill="#22ab94" stroke="#22ab94" stroke-width="0.2" textLength="38.7" lengthAdjust="spacingAndGlyphs">546.5 K</text><text x="18.1" y="745.6" font-size="12.5" fill="#131722" stroke="#131722" stroke-width="0.2" textLength="140.5" lengthAdjust="spacingAndGlyphs">RSI (12, close, SMA, 14, 2)</text><text x="165.5" y="745.6" font-size="12.5" fill="#9c51c9" stroke="#9c51c9" stroke-width="0.2" textLength="30.4" lengthAdjust="spacingAndGlyphs">70.00</text><text x="202.6" y="745.6" font-size="12.5" fill="#f23645" stroke="#f23645" stroke-width="0.2" textLength="29.5" lengthAdjust="spacingAndGlyphs">50.52</text><text x="240.3" y="745.6" font-size="12.5" fill="#131722" stroke="#131722" stroke-width="0.2" textLength="8.3" lengthAdjust="spacingAndGlyphs">Ø</text><text x="254.4" y="745.6" font-size="12.5" fill="#131722" stroke="#131722" stroke-width="0.2" textLength="8.9" lengthAdjust="spacingAndGlyphs">Ø</text><text x="1350.8" y="691.4" font-size="12" fill="#131722" stroke="#131722" stroke-width="0.2" textLength="22.5" lengthAdjust="spacingAndGlyphs">60.0</text><text x="1350.8" y="652.6" font-size="12" fill="#131722" stroke="#131722" stroke-width="0.2" textLength="22.5" lengthAdjust="spacingAndGlyphs">80.0</text><text x="1350.8" y="613.8" font-size="12" fill="#131722" stroke="#131722" stroke-width="0.2" textLength="28.9" lengthAdjust="spacingAndGlyphs">100.0</text><text x="1350.8" y="575.0" font-size="12" fill="#131722" stroke="#131722" stroke-width="0.2" textLength="28.9" lengthAdjust="spacingAndGlyphs">120.0</text><text x="1350.8" y="497.4" font-size="12" fill="#131722" stroke="#131722" stroke-width="0.2" textLength="28.9" lengthAdjust="spacingAndGlyphs">160.0</text><text x="1350.8" y="458.6" font-size="12" fill="#131722" stroke="#131722" stroke-width="0.2" textLength="28.9" lengthAdjust="spacingAndGlyphs">180.0</text><text x="1350.8" y="419.8" font-size="12" fill="#131722" stroke="#131722" stroke-width="0.2" textLength="28.9" lengthAdjust="spacingAndGlyphs">200.0</text><text x="1350.8" y="342.3" font-size="12" fill="#131722" stroke="#131722" stroke-width="0.2" textLength="28.9" lengthAdjust="spacingAndGlyphs">240.0</text><text x="1350.8" y="303.5" font-size="12" fill="#131722" stroke="#131722" stroke-width="0.2" textLength="28.9" lengthAdjust="spacingAndGlyphs">260.0</text><text x="1350.8" y="264.7" font-size="12" fill="#131722" stroke="#131722" stroke-width="0.2" textLength="28.9" lengthAdjust="spacingAndGlyphs">280.0</text><text x="1350.8" y="187.1" font-size="12" fill="#131722" stroke="#131722" stroke-width="0.2" textLength="28.9" lengthAdjust="spacingAndGlyphs">320.0</text><text x="1350.8" y="148.3" font-size="12" fill="#131722" stroke="#131722" stroke-width="0.2" textLength="28.9" lengthAdjust="spacingAndGlyphs">340.0</text><text x="1350.8" y="109.5" font-size="12" fill="#131722" stroke="#131722" stroke-width="0.2" textLength="28.9" lengthAdjust="spacingAndGlyphs">360.0</text><text x="1350.8" y="70.7" font-size="12" fill="#131722" stroke="#131722" stroke-width="0.2" textLength="28.9" lengthAdjust="spacingAndGlyphs">380.0</text><text x="1350.8" y="536.2" font-size="12" fill="#131722" stroke="#131722" stroke-width="0.2" textLength="28.9" lengthAdjust="spacingAndGlyphs">140.0</text><text x="1350.8" y="759.3" font-size="12" fill="#131722" stroke="#131722" stroke-width="0.2" textLength="30.0" lengthAdjust="spacingAndGlyphs">75.00</text><text x="1350.8" y="824.1" font-size="12" fill="#131722" stroke="#131722" stroke-width="0.2" textLength="30.0" lengthAdjust="spacingAndGlyphs">25.00</text><text x="12.5" y="847" font-size="12.5" fill="#131722" stroke="#131722" stroke-width="0.55" textLength="26.8" lengthAdjust="spacingAndGlyphs">2021</text><text x="138.9" y="847.0" font-size="12.5" fill="#131722" stroke="#131722" stroke-width="0.2" textLength="14.3" lengthAdjust="spacingAndGlyphs">לוי'</text><text x="252.9" y="847" font-size="12.5" fill="#131722" stroke="#131722" stroke-width="0.55" textLength="26.8" lengthAdjust="spacingAndGlyphs">2022</text><text x="379.4" y="847.0" font-size="12.5" fill="#131722" stroke="#131722" stroke-width="0.2" textLength="14.3" lengthAdjust="spacingAndGlyphs">לוי'</text><text x="493.4" y="847" font-size="12.5" fill="#131722" stroke="#131722" stroke-width="0.55" textLength="26.8" lengthAdjust="spacingAndGlyphs">2023</text><text x="619.9" y="847.0" font-size="12.5" fill="#131722" stroke="#131722" stroke-width="0.2" textLength="14.3" lengthAdjust="spacingAndGlyphs">לוי'</text><text x="738.4" y="847" font-size="12.5" fill="#131722" stroke="#131722" stroke-width="0.55" textLength="26.8" lengthAdjust="spacingAndGlyphs">2024</text><text x="865.0" y="847.0" font-size="12.5" fill="#131722" stroke="#131722" stroke-width="0.2" textLength="14.3" lengthAdjust="spacingAndGlyphs">לוי'</text><text x="978.9" y="847" font-size="12.5" fill="#131722" stroke="#131722" stroke-width="0.55" textLength="26.8" lengthAdjust="spacingAndGlyphs">2025</text><text x="1105.3" y="847.0" font-size="12.5" fill="#131722" stroke="#131722" stroke-width="0.2" textLength="14.3" lengthAdjust="spacingAndGlyphs">לוי'</text><text x="1219.3" y="847" font-size="12.5" fill="#131722" stroke="#131722" stroke-width="0.55" textLength="26.8" lengthAdjust="spacingAndGlyphs">2026</text></svg>
<div class="b" style="left:1343px;top:214px;width:43px;height:17px;background:#5d606b;border-radius:0 2px 2px 0"></div><div class="b" style="left:1343px;top:310px;width:43px;height:17px;background:#5d606b;border-radius:0 2px 2px 0"></div><div class="b" style="left:1343px;top:349px;width:43px;height:17px;background:#5d606b;border-radius:0 2px 2px 0"></div><div class="b" style="left:1343px;top:366px;width:43px;height:31px;background:#089981;border-radius:0 2px 2px 0"></div><div class="b" style="left:1343px;top:397px;width:43px;height:17px;background:#5d606b;border-radius:0 2px 2px 0"></div><div class="b" style="left:1343px;top:517px;width:43px;height:17px;background:#5d606b;border-radius:0 2px 2px 0"></div><div class="b" style="left:1306px;top:366px;width:36px;height:17px;background:#089981;border-radius:2px 0 0 2px"></div><div class="b" style="left:1343px;top:753px;width:43px;height:17px;background:#9c51c9;border-radius:0 2px 2px 0"></div><div class="b" style="left:1343px;top:779px;width:43px;height:17px;background:#f23645;border-radius:0 2px 2px 0"></div><div class="b" style="left:1343px;top:707px;width:52px;height:17px;background:#22ab94;border-radius:0 2px 2px 0"></div><div class="b" style="left:1345px;top:30px;width:57px;height:27px;border:2px solid #f2f2f2;border-radius:6px;box-sizing:border-box"></div>
<svg style="position:absolute;left:0;top:0" width="1416" height="917" font-family="Liberation Sans, sans-serif"><text x="1350.7" y="226.8" font-size="12" fill="#fff" stroke="#fff" stroke-width="0.45" textLength="28.9" lengthAdjust="spacingAndGlyphs">299.4</text><text x="1350.7" y="322.8" font-size="12" fill="#fff" stroke="#fff" stroke-width="0.45" textLength="28.9" lengthAdjust="spacingAndGlyphs">250.1</text><text x="1350.7" y="361.8" font-size="12" fill="#fff" stroke="#fff" stroke-width="0.45" textLength="28.9" lengthAdjust="spacingAndGlyphs">225.0</text><text x="1350.7" y="378.8" font-size="12" fill="#fff" stroke="#fff" stroke-width="0.45" textLength="28.9" lengthAdjust="spacingAndGlyphs">220.9</text><text x="1350.7" y="392.8" font-size="12" fill="#c8ece5" stroke="#c8ece5" stroke-width="0.45" textLength="29.5" lengthAdjust="spacingAndGlyphs">1d 3h</text><text x="1350.7" y="409.8" font-size="12" fill="#fff" stroke="#fff" stroke-width="0.45" textLength="28.9" lengthAdjust="spacingAndGlyphs">215.6</text><text x="1350.7" y="529.8" font-size="12" fill="#fff" stroke="#fff" stroke-width="0.45" textLength="28.9" lengthAdjust="spacingAndGlyphs">143.1</text><text x="1350.7" y="765.8" font-size="12" fill="#fff" stroke="#fff" stroke-width="0.45" textLength="28.9" lengthAdjust="spacingAndGlyphs">70.00</text><text x="1350.7" y="791.8" font-size="12" fill="#fff" stroke="#fff" stroke-width="0.45" textLength="28.9" lengthAdjust="spacingAndGlyphs">50.52</text><text x="1350.7" y="719.9" font-size="12" fill="#fff" stroke="#fff" stroke-width="0.45" textLength="30.3" lengthAdjust="spacingAndGlyphs">546.5</text><text x="1382.3" y="719.9" font-size="12" fill="#fff" stroke="#fff" stroke-width="0.45" textLength="8.0" lengthAdjust="spacingAndGlyphs">K</text><text x="1309.9" y="378.8" font-size="12" fill="#fff" stroke="#fff" stroke-width="0.45" textLength="28.9" lengthAdjust="spacingAndGlyphs">ACCL</text><text x="1355" y="48.8" font-size="12" fill="#131722" textLength="17.4" lengthAdjust="spacingAndGlyphs">ILA</text></svg>
<svg style="position:absolute;left:0;top:0" width="200" height="917"><path d="M12 879h11.8v15h-5.8v-9.4h-6z" fill="#000"/><circle cx="29" cy="881.6" r="2.6" fill="#000"/><path d="M34.4 879h7.2l-5.1 15h-7.5z" fill="#000"/><text x="48.7" y="893.8" font-size="20" font-weight="bold" fill="#000" textLength="121.3" lengthAdjust="spacingAndGlyphs">TradingView</text></svg>
</body></html>
